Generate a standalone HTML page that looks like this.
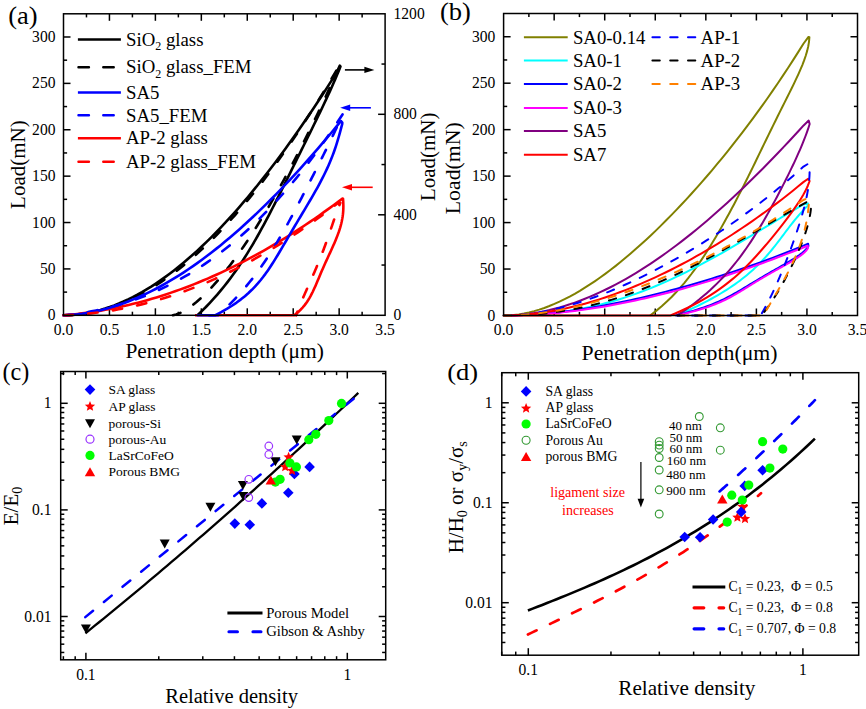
<!DOCTYPE html><html><head><meta charset="utf-8"><style>html,body{margin:0;padding:0;background:#fff;}svg{display:block}</style></head><body>
<svg width="866" height="709" viewBox="0 0 866 709" font-family="&quot;Liberation Serif&quot;, serif">
<rect width="866" height="709" fill="#fff"/>
<line x1="109.44" y1="315.3" x2="109.44" y2="308.3" stroke="#000" stroke-width="1.5" />
<line x1="109.44" y1="13.8" x2="109.44" y2="20.8" stroke="#000" stroke-width="1.5" />
<line x1="155.39" y1="315.3" x2="155.39" y2="308.3" stroke="#000" stroke-width="1.5" />
<line x1="155.39" y1="13.8" x2="155.39" y2="20.8" stroke="#000" stroke-width="1.5" />
<line x1="201.33" y1="315.3" x2="201.33" y2="308.3" stroke="#000" stroke-width="1.5" />
<line x1="201.33" y1="13.8" x2="201.33" y2="20.8" stroke="#000" stroke-width="1.5" />
<line x1="247.27" y1="315.3" x2="247.27" y2="308.3" stroke="#000" stroke-width="1.5" />
<line x1="247.27" y1="13.8" x2="247.27" y2="20.8" stroke="#000" stroke-width="1.5" />
<line x1="293.21" y1="315.3" x2="293.21" y2="308.3" stroke="#000" stroke-width="1.5" />
<line x1="293.21" y1="13.8" x2="293.21" y2="20.8" stroke="#000" stroke-width="1.5" />
<line x1="339.16" y1="315.3" x2="339.16" y2="308.3" stroke="#000" stroke-width="1.5" />
<line x1="339.16" y1="13.8" x2="339.16" y2="20.8" stroke="#000" stroke-width="1.5" />
<line x1="86.47" y1="315.3" x2="86.47" y2="311.7" stroke="#000" stroke-width="1.5" />
<line x1="86.47" y1="13.8" x2="86.47" y2="17.4" stroke="#000" stroke-width="1.5" />
<line x1="132.41" y1="315.3" x2="132.41" y2="311.7" stroke="#000" stroke-width="1.5" />
<line x1="132.41" y1="13.8" x2="132.41" y2="17.4" stroke="#000" stroke-width="1.5" />
<line x1="178.36" y1="315.3" x2="178.36" y2="311.7" stroke="#000" stroke-width="1.5" />
<line x1="178.36" y1="13.8" x2="178.36" y2="17.4" stroke="#000" stroke-width="1.5" />
<line x1="224.3" y1="315.3" x2="224.3" y2="311.7" stroke="#000" stroke-width="1.5" />
<line x1="224.3" y1="13.8" x2="224.3" y2="17.4" stroke="#000" stroke-width="1.5" />
<line x1="270.24" y1="315.3" x2="270.24" y2="311.7" stroke="#000" stroke-width="1.5" />
<line x1="270.24" y1="13.8" x2="270.24" y2="17.4" stroke="#000" stroke-width="1.5" />
<line x1="316.19" y1="315.3" x2="316.19" y2="311.7" stroke="#000" stroke-width="1.5" />
<line x1="316.19" y1="13.8" x2="316.19" y2="17.4" stroke="#000" stroke-width="1.5" />
<line x1="362.13" y1="315.3" x2="362.13" y2="311.7" stroke="#000" stroke-width="1.5" />
<line x1="362.13" y1="13.8" x2="362.13" y2="17.4" stroke="#000" stroke-width="1.5" />
<line x1="63.5" y1="268.92" x2="70.5" y2="268.92" stroke="#000" stroke-width="1.5" />
<line x1="63.5" y1="222.53" x2="70.5" y2="222.53" stroke="#000" stroke-width="1.5" />
<line x1="63.5" y1="176.15" x2="70.5" y2="176.15" stroke="#000" stroke-width="1.5" />
<line x1="63.5" y1="129.76" x2="70.5" y2="129.76" stroke="#000" stroke-width="1.5" />
<line x1="63.5" y1="83.38" x2="70.5" y2="83.38" stroke="#000" stroke-width="1.5" />
<line x1="63.5" y1="36.99" x2="70.5" y2="36.99" stroke="#000" stroke-width="1.5" />
<line x1="63.5" y1="292.11" x2="67.1" y2="292.11" stroke="#000" stroke-width="1.5" />
<line x1="63.5" y1="245.72" x2="67.1" y2="245.72" stroke="#000" stroke-width="1.5" />
<line x1="63.5" y1="199.34" x2="67.1" y2="199.34" stroke="#000" stroke-width="1.5" />
<line x1="63.5" y1="152.95" x2="67.1" y2="152.95" stroke="#000" stroke-width="1.5" />
<line x1="63.5" y1="106.57" x2="67.1" y2="106.57" stroke="#000" stroke-width="1.5" />
<line x1="63.5" y1="60.18" x2="67.1" y2="60.18" stroke="#000" stroke-width="1.5" />
<line x1="385.1" y1="214.8" x2="378.1" y2="214.8" stroke="#000" stroke-width="1.5" />
<line x1="385.1" y1="114.3" x2="378.1" y2="114.3" stroke="#000" stroke-width="1.5" />
<line x1="385.1" y1="265.05" x2="381.5" y2="265.05" stroke="#000" stroke-width="1.5" />
<line x1="385.1" y1="164.55" x2="381.5" y2="164.55" stroke="#000" stroke-width="1.5" />
<line x1="385.1" y1="64.05" x2="381.5" y2="64.05" stroke="#000" stroke-width="1.5" />
<text transform="translate(63.5,335.3) scale(1,1.085)" font-size="15.6" text-anchor="middle">0.0</text>
<text transform="translate(109.44,335.3) scale(1,1.085)" font-size="15.6" text-anchor="middle">0.5</text>
<text transform="translate(155.39,335.3) scale(1,1.085)" font-size="15.6" text-anchor="middle">1.0</text>
<text transform="translate(201.33,335.3) scale(1,1.085)" font-size="15.6" text-anchor="middle">1.5</text>
<text transform="translate(247.27,335.3) scale(1,1.085)" font-size="15.6" text-anchor="middle">2.0</text>
<text transform="translate(293.21,335.3) scale(1,1.085)" font-size="15.6" text-anchor="middle">2.5</text>
<text transform="translate(339.16,335.3) scale(1,1.085)" font-size="15.6" text-anchor="middle">3.0</text>
<text transform="translate(385.1,335.3) scale(1,1.085)" font-size="15.6" text-anchor="middle">3.5</text>
<text transform="translate(55.5,320.35) scale(1,1.085)" font-size="15.6" text-anchor="end">0</text>
<text transform="translate(55.5,273.97) scale(1,1.085)" font-size="15.6" text-anchor="end">50</text>
<text transform="translate(55.5,227.58) scale(1,1.085)" font-size="15.6" text-anchor="end">100</text>
<text transform="translate(55.5,181.2) scale(1,1.085)" font-size="15.6" text-anchor="end">150</text>
<text transform="translate(55.5,134.81) scale(1,1.085)" font-size="15.6" text-anchor="end">200</text>
<text transform="translate(55.5,88.43) scale(1,1.085)" font-size="15.6" text-anchor="end">250</text>
<text transform="translate(55.5,42.04) scale(1,1.085)" font-size="15.6" text-anchor="end">300</text>
<text transform="translate(393.5,320.35) scale(1,1.085)" font-size="15.6" text-anchor="start">0</text>
<text transform="translate(393.5,219.85) scale(1,1.085)" font-size="15.6" text-anchor="start">400</text>
<text transform="translate(393.5,119.35) scale(1,1.085)" font-size="15.6" text-anchor="start">800</text>
<text transform="translate(393.5,18.85) scale(1,1.085)" font-size="15.6" text-anchor="start">1200</text>
<text x="125.4" y="357.9" font-size="21.45" text-anchor="start" fill="#000" >Penetration depth (μm)</text>
<text transform="translate(25.0,164.6) rotate(-90)" font-size="21" text-anchor="middle">Load(mN)</text>
<text transform="translate(434.7,156.8) rotate(-90)" font-size="21" text-anchor="middle">Load(mN)</text>
<text transform="translate(8.2,24.1) scale(1,0.948)" font-size="26.5">(a)</text>
<line x1="554.16" y1="315.5" x2="554.16" y2="308.5" stroke="#000" stroke-width="1.5" />
<line x1="554.16" y1="13.5" x2="554.16" y2="20.5" stroke="#000" stroke-width="1.5" />
<line x1="604.71" y1="315.5" x2="604.71" y2="308.5" stroke="#000" stroke-width="1.5" />
<line x1="604.71" y1="13.5" x2="604.71" y2="20.5" stroke="#000" stroke-width="1.5" />
<line x1="655.27" y1="315.5" x2="655.27" y2="308.5" stroke="#000" stroke-width="1.5" />
<line x1="655.27" y1="13.5" x2="655.27" y2="20.5" stroke="#000" stroke-width="1.5" />
<line x1="705.83" y1="315.5" x2="705.83" y2="308.5" stroke="#000" stroke-width="1.5" />
<line x1="705.83" y1="13.5" x2="705.83" y2="20.5" stroke="#000" stroke-width="1.5" />
<line x1="756.39" y1="315.5" x2="756.39" y2="308.5" stroke="#000" stroke-width="1.5" />
<line x1="756.39" y1="13.5" x2="756.39" y2="20.5" stroke="#000" stroke-width="1.5" />
<line x1="806.94" y1="315.5" x2="806.94" y2="308.5" stroke="#000" stroke-width="1.5" />
<line x1="806.94" y1="13.5" x2="806.94" y2="20.5" stroke="#000" stroke-width="1.5" />
<line x1="528.88" y1="315.5" x2="528.88" y2="311.9" stroke="#000" stroke-width="1.5" />
<line x1="528.88" y1="13.5" x2="528.88" y2="17.1" stroke="#000" stroke-width="1.5" />
<line x1="579.44" y1="315.5" x2="579.44" y2="311.9" stroke="#000" stroke-width="1.5" />
<line x1="579.44" y1="13.5" x2="579.44" y2="17.1" stroke="#000" stroke-width="1.5" />
<line x1="629.99" y1="315.5" x2="629.99" y2="311.9" stroke="#000" stroke-width="1.5" />
<line x1="629.99" y1="13.5" x2="629.99" y2="17.1" stroke="#000" stroke-width="1.5" />
<line x1="680.55" y1="315.5" x2="680.55" y2="311.9" stroke="#000" stroke-width="1.5" />
<line x1="680.55" y1="13.5" x2="680.55" y2="17.1" stroke="#000" stroke-width="1.5" />
<line x1="731.11" y1="315.5" x2="731.11" y2="311.9" stroke="#000" stroke-width="1.5" />
<line x1="731.11" y1="13.5" x2="731.11" y2="17.1" stroke="#000" stroke-width="1.5" />
<line x1="781.66" y1="315.5" x2="781.66" y2="311.9" stroke="#000" stroke-width="1.5" />
<line x1="781.66" y1="13.5" x2="781.66" y2="17.1" stroke="#000" stroke-width="1.5" />
<line x1="832.22" y1="315.5" x2="832.22" y2="311.9" stroke="#000" stroke-width="1.5" />
<line x1="832.22" y1="13.5" x2="832.22" y2="17.1" stroke="#000" stroke-width="1.5" />
<line x1="503.6" y1="269.04" x2="510.6" y2="269.04" stroke="#000" stroke-width="1.5" />
<line x1="503.6" y1="222.58" x2="510.6" y2="222.58" stroke="#000" stroke-width="1.5" />
<line x1="503.6" y1="176.12" x2="510.6" y2="176.12" stroke="#000" stroke-width="1.5" />
<line x1="503.6" y1="129.65" x2="510.6" y2="129.65" stroke="#000" stroke-width="1.5" />
<line x1="503.6" y1="83.19" x2="510.6" y2="83.19" stroke="#000" stroke-width="1.5" />
<line x1="503.6" y1="36.73" x2="510.6" y2="36.73" stroke="#000" stroke-width="1.5" />
<line x1="503.6" y1="292.27" x2="507.2" y2="292.27" stroke="#000" stroke-width="1.5" />
<line x1="503.6" y1="245.81" x2="507.2" y2="245.81" stroke="#000" stroke-width="1.5" />
<line x1="503.6" y1="199.35" x2="507.2" y2="199.35" stroke="#000" stroke-width="1.5" />
<line x1="503.6" y1="152.88" x2="507.2" y2="152.88" stroke="#000" stroke-width="1.5" />
<line x1="503.6" y1="106.42" x2="507.2" y2="106.42" stroke="#000" stroke-width="1.5" />
<line x1="503.6" y1="59.96" x2="507.2" y2="59.96" stroke="#000" stroke-width="1.5" />
<line x1="857.5" y1="269.04" x2="850.5" y2="269.04" stroke="#000" stroke-width="1.5" />
<line x1="857.5" y1="222.58" x2="850.5" y2="222.58" stroke="#000" stroke-width="1.5" />
<line x1="857.5" y1="176.12" x2="850.5" y2="176.12" stroke="#000" stroke-width="1.5" />
<line x1="857.5" y1="129.65" x2="850.5" y2="129.65" stroke="#000" stroke-width="1.5" />
<line x1="857.5" y1="83.19" x2="850.5" y2="83.19" stroke="#000" stroke-width="1.5" />
<line x1="857.5" y1="36.73" x2="850.5" y2="36.73" stroke="#000" stroke-width="1.5" />
<line x1="857.5" y1="292.27" x2="853.9" y2="292.27" stroke="#000" stroke-width="1.5" />
<line x1="857.5" y1="245.81" x2="853.9" y2="245.81" stroke="#000" stroke-width="1.5" />
<line x1="857.5" y1="199.35" x2="853.9" y2="199.35" stroke="#000" stroke-width="1.5" />
<line x1="857.5" y1="152.88" x2="853.9" y2="152.88" stroke="#000" stroke-width="1.5" />
<line x1="857.5" y1="106.42" x2="853.9" y2="106.42" stroke="#000" stroke-width="1.5" />
<line x1="857.5" y1="59.96" x2="853.9" y2="59.96" stroke="#000" stroke-width="1.5" />
<text transform="translate(503.6,335.3) scale(1,1.085)" font-size="15.6" text-anchor="middle">0.0</text>
<text transform="translate(554.16,335.3) scale(1,1.085)" font-size="15.6" text-anchor="middle">0.5</text>
<text transform="translate(604.71,335.3) scale(1,1.085)" font-size="15.6" text-anchor="middle">1.0</text>
<text transform="translate(655.27,335.3) scale(1,1.085)" font-size="15.6" text-anchor="middle">1.5</text>
<text transform="translate(705.83,335.3) scale(1,1.085)" font-size="15.6" text-anchor="middle">2.0</text>
<text transform="translate(756.39,335.3) scale(1,1.085)" font-size="15.6" text-anchor="middle">2.5</text>
<text transform="translate(806.94,335.3) scale(1,1.085)" font-size="15.6" text-anchor="middle">3.0</text>
<text transform="translate(857.5,335.3) scale(1,1.085)" font-size="15.6" text-anchor="middle">3.5</text>
<text transform="translate(495.3,320.55) scale(1,1.085)" font-size="15.6" text-anchor="end">0</text>
<text transform="translate(495.3,274.09) scale(1,1.085)" font-size="15.6" text-anchor="end">50</text>
<text transform="translate(495.3,227.63) scale(1,1.085)" font-size="15.6" text-anchor="end">100</text>
<text transform="translate(495.3,181.17) scale(1,1.085)" font-size="15.6" text-anchor="end">150</text>
<text transform="translate(495.3,134.7) scale(1,1.085)" font-size="15.6" text-anchor="end">200</text>
<text transform="translate(495.3,88.24) scale(1,1.085)" font-size="15.6" text-anchor="end">250</text>
<text transform="translate(495.3,41.78) scale(1,1.085)" font-size="15.6" text-anchor="end">300</text>
<text x="581.6" y="360.2" font-size="21.75" text-anchor="start" fill="#000" >Penetration depth(μm)</text>
<text transform="translate(459.8,168.2) rotate(-90)" font-size="21.8" text-anchor="middle">Load(mN)</text>
<text transform="translate(439.9,20.3) scale(1.0,0.96)" font-size="26.5">(b)</text>
<line x1="85.9" y1="659.8" x2="85.9" y2="652.8" stroke="#000" stroke-width="1.5" />
<line x1="85.9" y1="371.5" x2="85.9" y2="378.5" stroke="#000" stroke-width="1.5" />
<line x1="347.3" y1="659.8" x2="347.3" y2="652.8" stroke="#000" stroke-width="1.5" />
<line x1="347.3" y1="371.5" x2="347.3" y2="378.5" stroke="#000" stroke-width="1.5" />
<line x1="63.37" y1="659.8" x2="63.37" y2="656.2" stroke="#000" stroke-width="1.5" />
<line x1="63.37" y1="371.5" x2="63.37" y2="375.1" stroke="#000" stroke-width="1.5" />
<line x1="75.19" y1="659.8" x2="75.19" y2="656.2" stroke="#000" stroke-width="1.5" />
<line x1="75.19" y1="371.5" x2="75.19" y2="375.1" stroke="#000" stroke-width="1.5" />
<line x1="158.77" y1="659.8" x2="158.77" y2="656.2" stroke="#000" stroke-width="1.5" />
<line x1="158.77" y1="371.5" x2="158.77" y2="375.1" stroke="#000" stroke-width="1.5" />
<line x1="202.79" y1="659.8" x2="202.79" y2="656.2" stroke="#000" stroke-width="1.5" />
<line x1="202.79" y1="371.5" x2="202.79" y2="375.1" stroke="#000" stroke-width="1.5" />
<line x1="234.43" y1="659.8" x2="234.43" y2="656.2" stroke="#000" stroke-width="1.5" />
<line x1="234.43" y1="371.5" x2="234.43" y2="375.1" stroke="#000" stroke-width="1.5" />
<line x1="259.14" y1="659.8" x2="259.14" y2="656.2" stroke="#000" stroke-width="1.5" />
<line x1="259.14" y1="371.5" x2="259.14" y2="375.1" stroke="#000" stroke-width="1.5" />
<line x1="279.43" y1="659.8" x2="279.43" y2="656.2" stroke="#000" stroke-width="1.5" />
<line x1="279.43" y1="371.5" x2="279.43" y2="375.1" stroke="#000" stroke-width="1.5" />
<line x1="296.64" y1="659.8" x2="296.64" y2="656.2" stroke="#000" stroke-width="1.5" />
<line x1="296.64" y1="371.5" x2="296.64" y2="375.1" stroke="#000" stroke-width="1.5" />
<line x1="311.57" y1="659.8" x2="311.57" y2="656.2" stroke="#000" stroke-width="1.5" />
<line x1="311.57" y1="371.5" x2="311.57" y2="375.1" stroke="#000" stroke-width="1.5" />
<line x1="324.77" y1="659.8" x2="324.77" y2="656.2" stroke="#000" stroke-width="1.5" />
<line x1="324.77" y1="371.5" x2="324.77" y2="375.1" stroke="#000" stroke-width="1.5" />
<line x1="336.59" y1="659.8" x2="336.59" y2="656.2" stroke="#000" stroke-width="1.5" />
<line x1="336.59" y1="371.5" x2="336.59" y2="375.1" stroke="#000" stroke-width="1.5" />
<line x1="60.7" y1="616.5" x2="67.7" y2="616.5" stroke="#000" stroke-width="1.5" />
<line x1="60.7" y1="509.9" x2="67.7" y2="509.9" stroke="#000" stroke-width="1.5" />
<line x1="60.7" y1="403.3" x2="67.7" y2="403.3" stroke="#000" stroke-width="1.5" />
<line x1="60.7" y1="652.45" x2="64.3" y2="652.45" stroke="#000" stroke-width="1.5" />
<line x1="60.7" y1="644.18" x2="64.3" y2="644.18" stroke="#000" stroke-width="1.5" />
<line x1="60.7" y1="637.16" x2="64.3" y2="637.16" stroke="#000" stroke-width="1.5" />
<line x1="60.7" y1="631.07" x2="64.3" y2="631.07" stroke="#000" stroke-width="1.5" />
<line x1="60.7" y1="625.69" x2="64.3" y2="625.69" stroke="#000" stroke-width="1.5" />
<line x1="60.7" y1="620.87" x2="64.3" y2="620.87" stroke="#000" stroke-width="1.5" />
<line x1="60.7" y1="586.78" x2="64.3" y2="586.78" stroke="#000" stroke-width="1.5" />
<line x1="60.7" y1="568.83" x2="64.3" y2="568.83" stroke="#000" stroke-width="1.5" />
<line x1="60.7" y1="555.93" x2="64.3" y2="555.93" stroke="#000" stroke-width="1.5" />
<line x1="60.7" y1="545.85" x2="64.3" y2="545.85" stroke="#000" stroke-width="1.5" />
<line x1="60.7" y1="537.58" x2="64.3" y2="537.58" stroke="#000" stroke-width="1.5" />
<line x1="60.7" y1="530.56" x2="64.3" y2="530.56" stroke="#000" stroke-width="1.5" />
<line x1="60.7" y1="524.47" x2="64.3" y2="524.47" stroke="#000" stroke-width="1.5" />
<line x1="60.7" y1="519.09" x2="64.3" y2="519.09" stroke="#000" stroke-width="1.5" />
<line x1="60.7" y1="514.27" x2="64.3" y2="514.27" stroke="#000" stroke-width="1.5" />
<line x1="60.7" y1="480.18" x2="64.3" y2="480.18" stroke="#000" stroke-width="1.5" />
<line x1="60.7" y1="462.23" x2="64.3" y2="462.23" stroke="#000" stroke-width="1.5" />
<line x1="60.7" y1="449.33" x2="64.3" y2="449.33" stroke="#000" stroke-width="1.5" />
<line x1="60.7" y1="439.25" x2="64.3" y2="439.25" stroke="#000" stroke-width="1.5" />
<line x1="60.7" y1="430.98" x2="64.3" y2="430.98" stroke="#000" stroke-width="1.5" />
<line x1="60.7" y1="423.96" x2="64.3" y2="423.96" stroke="#000" stroke-width="1.5" />
<line x1="60.7" y1="417.87" x2="64.3" y2="417.87" stroke="#000" stroke-width="1.5" />
<line x1="60.7" y1="412.49" x2="64.3" y2="412.49" stroke="#000" stroke-width="1.5" />
<line x1="60.7" y1="407.67" x2="64.3" y2="407.67" stroke="#000" stroke-width="1.5" />
<line x1="60.7" y1="373.58" x2="64.3" y2="373.58" stroke="#000" stroke-width="1.5" />
<line x1="385.7" y1="616.5" x2="378.7" y2="616.5" stroke="#000" stroke-width="1.5" />
<line x1="385.7" y1="509.9" x2="378.7" y2="509.9" stroke="#000" stroke-width="1.5" />
<line x1="385.7" y1="403.3" x2="378.7" y2="403.3" stroke="#000" stroke-width="1.5" />
<line x1="385.7" y1="652.45" x2="382.1" y2="652.45" stroke="#000" stroke-width="1.5" />
<line x1="385.7" y1="644.18" x2="382.1" y2="644.18" stroke="#000" stroke-width="1.5" />
<line x1="385.7" y1="637.16" x2="382.1" y2="637.16" stroke="#000" stroke-width="1.5" />
<line x1="385.7" y1="631.07" x2="382.1" y2="631.07" stroke="#000" stroke-width="1.5" />
<line x1="385.7" y1="625.69" x2="382.1" y2="625.69" stroke="#000" stroke-width="1.5" />
<line x1="385.7" y1="620.87" x2="382.1" y2="620.87" stroke="#000" stroke-width="1.5" />
<line x1="385.7" y1="586.78" x2="382.1" y2="586.78" stroke="#000" stroke-width="1.5" />
<line x1="385.7" y1="568.83" x2="382.1" y2="568.83" stroke="#000" stroke-width="1.5" />
<line x1="385.7" y1="555.93" x2="382.1" y2="555.93" stroke="#000" stroke-width="1.5" />
<line x1="385.7" y1="545.85" x2="382.1" y2="545.85" stroke="#000" stroke-width="1.5" />
<line x1="385.7" y1="537.58" x2="382.1" y2="537.58" stroke="#000" stroke-width="1.5" />
<line x1="385.7" y1="530.56" x2="382.1" y2="530.56" stroke="#000" stroke-width="1.5" />
<line x1="385.7" y1="524.47" x2="382.1" y2="524.47" stroke="#000" stroke-width="1.5" />
<line x1="385.7" y1="519.09" x2="382.1" y2="519.09" stroke="#000" stroke-width="1.5" />
<line x1="385.7" y1="514.27" x2="382.1" y2="514.27" stroke="#000" stroke-width="1.5" />
<line x1="385.7" y1="480.18" x2="382.1" y2="480.18" stroke="#000" stroke-width="1.5" />
<line x1="385.7" y1="462.23" x2="382.1" y2="462.23" stroke="#000" stroke-width="1.5" />
<line x1="385.7" y1="449.33" x2="382.1" y2="449.33" stroke="#000" stroke-width="1.5" />
<line x1="385.7" y1="439.25" x2="382.1" y2="439.25" stroke="#000" stroke-width="1.5" />
<line x1="385.7" y1="430.98" x2="382.1" y2="430.98" stroke="#000" stroke-width="1.5" />
<line x1="385.7" y1="423.96" x2="382.1" y2="423.96" stroke="#000" stroke-width="1.5" />
<line x1="385.7" y1="417.87" x2="382.1" y2="417.87" stroke="#000" stroke-width="1.5" />
<line x1="385.7" y1="412.49" x2="382.1" y2="412.49" stroke="#000" stroke-width="1.5" />
<line x1="385.7" y1="407.67" x2="382.1" y2="407.67" stroke="#000" stroke-width="1.5" />
<line x1="385.7" y1="373.58" x2="382.1" y2="373.58" stroke="#000" stroke-width="1.5" />
<text transform="translate(85.9,679.6) scale(1,1.085)" font-size="15.6" text-anchor="middle">0.1</text>
<text transform="translate(347.3,679.6) scale(1,1.085)" font-size="15.6" text-anchor="middle">1</text>
<text transform="translate(51.5,408.35) scale(1,1.085)" font-size="15.6" text-anchor="end">1</text>
<text transform="translate(51.5,514.95) scale(1,1.085)" font-size="15.6" text-anchor="end">0.1</text>
<text transform="translate(51.5,621.55) scale(1,1.085)" font-size="15.6" text-anchor="end">0.01</text>
<text x="165.3" y="703.2" font-size="20.5" text-anchor="start" fill="#000" >Relative density</text>
<text transform="translate(17.8,506) rotate(-90)" font-size="21" text-anchor="middle">E/E<tspan font-size="14" dy="4">0</tspan></text>
<text transform="translate(2.5,380.4) scale(0.912,0.912)" font-size="26.5">(c)</text>
<line x1="528.3" y1="655.2" x2="528.3" y2="648.2" stroke="#000" stroke-width="1.5" />
<line x1="528.3" y1="372.7" x2="528.3" y2="379.7" stroke="#000" stroke-width="1.5" />
<line x1="802.9" y1="655.2" x2="802.9" y2="648.2" stroke="#000" stroke-width="1.5" />
<line x1="802.9" y1="372.7" x2="802.9" y2="379.7" stroke="#000" stroke-width="1.5" />
<line x1="501.69" y1="655.2" x2="501.69" y2="651.6" stroke="#000" stroke-width="1.5" />
<line x1="501.69" y1="372.7" x2="501.69" y2="376.3" stroke="#000" stroke-width="1.5" />
<line x1="515.73" y1="655.2" x2="515.73" y2="651.6" stroke="#000" stroke-width="1.5" />
<line x1="515.73" y1="372.7" x2="515.73" y2="376.3" stroke="#000" stroke-width="1.5" />
<line x1="610.96" y1="655.2" x2="610.96" y2="651.6" stroke="#000" stroke-width="1.5" />
<line x1="610.96" y1="372.7" x2="610.96" y2="376.3" stroke="#000" stroke-width="1.5" />
<line x1="659.32" y1="655.2" x2="659.32" y2="651.6" stroke="#000" stroke-width="1.5" />
<line x1="659.32" y1="372.7" x2="659.32" y2="376.3" stroke="#000" stroke-width="1.5" />
<line x1="693.63" y1="655.2" x2="693.63" y2="651.6" stroke="#000" stroke-width="1.5" />
<line x1="693.63" y1="372.7" x2="693.63" y2="376.3" stroke="#000" stroke-width="1.5" />
<line x1="720.24" y1="655.2" x2="720.24" y2="651.6" stroke="#000" stroke-width="1.5" />
<line x1="720.24" y1="372.7" x2="720.24" y2="376.3" stroke="#000" stroke-width="1.5" />
<line x1="741.98" y1="655.2" x2="741.98" y2="651.6" stroke="#000" stroke-width="1.5" />
<line x1="741.98" y1="372.7" x2="741.98" y2="376.3" stroke="#000" stroke-width="1.5" />
<line x1="760.36" y1="655.2" x2="760.36" y2="651.6" stroke="#000" stroke-width="1.5" />
<line x1="760.36" y1="372.7" x2="760.36" y2="376.3" stroke="#000" stroke-width="1.5" />
<line x1="776.29" y1="655.2" x2="776.29" y2="651.6" stroke="#000" stroke-width="1.5" />
<line x1="776.29" y1="372.7" x2="776.29" y2="376.3" stroke="#000" stroke-width="1.5" />
<line x1="790.33" y1="655.2" x2="790.33" y2="651.6" stroke="#000" stroke-width="1.5" />
<line x1="790.33" y1="372.7" x2="790.33" y2="376.3" stroke="#000" stroke-width="1.5" />
<line x1="501.8" y1="602.7" x2="508.8" y2="602.7" stroke="#000" stroke-width="1.5" />
<line x1="501.8" y1="502.75" x2="508.8" y2="502.75" stroke="#000" stroke-width="1.5" />
<line x1="501.8" y1="402.8" x2="508.8" y2="402.8" stroke="#000" stroke-width="1.5" />
<line x1="501.8" y1="642.47" x2="505.4" y2="642.47" stroke="#000" stroke-width="1.5" />
<line x1="501.8" y1="632.79" x2="505.4" y2="632.79" stroke="#000" stroke-width="1.5" />
<line x1="501.8" y1="624.87" x2="505.4" y2="624.87" stroke="#000" stroke-width="1.5" />
<line x1="501.8" y1="618.18" x2="505.4" y2="618.18" stroke="#000" stroke-width="1.5" />
<line x1="501.8" y1="612.39" x2="505.4" y2="612.39" stroke="#000" stroke-width="1.5" />
<line x1="501.8" y1="607.27" x2="505.4" y2="607.27" stroke="#000" stroke-width="1.5" />
<line x1="501.8" y1="572.61" x2="505.4" y2="572.61" stroke="#000" stroke-width="1.5" />
<line x1="501.8" y1="555.01" x2="505.4" y2="555.01" stroke="#000" stroke-width="1.5" />
<line x1="501.8" y1="542.52" x2="505.4" y2="542.52" stroke="#000" stroke-width="1.5" />
<line x1="501.8" y1="532.84" x2="505.4" y2="532.84" stroke="#000" stroke-width="1.5" />
<line x1="501.8" y1="524.92" x2="505.4" y2="524.92" stroke="#000" stroke-width="1.5" />
<line x1="501.8" y1="518.23" x2="505.4" y2="518.23" stroke="#000" stroke-width="1.5" />
<line x1="501.8" y1="512.44" x2="505.4" y2="512.44" stroke="#000" stroke-width="1.5" />
<line x1="501.8" y1="507.32" x2="505.4" y2="507.32" stroke="#000" stroke-width="1.5" />
<line x1="501.8" y1="472.66" x2="505.4" y2="472.66" stroke="#000" stroke-width="1.5" />
<line x1="501.8" y1="455.06" x2="505.4" y2="455.06" stroke="#000" stroke-width="1.5" />
<line x1="501.8" y1="442.57" x2="505.4" y2="442.57" stroke="#000" stroke-width="1.5" />
<line x1="501.8" y1="432.89" x2="505.4" y2="432.89" stroke="#000" stroke-width="1.5" />
<line x1="501.8" y1="424.97" x2="505.4" y2="424.97" stroke="#000" stroke-width="1.5" />
<line x1="501.8" y1="418.28" x2="505.4" y2="418.28" stroke="#000" stroke-width="1.5" />
<line x1="501.8" y1="412.49" x2="505.4" y2="412.49" stroke="#000" stroke-width="1.5" />
<line x1="501.8" y1="407.37" x2="505.4" y2="407.37" stroke="#000" stroke-width="1.5" />
<line x1="858.7" y1="602.7" x2="851.7" y2="602.7" stroke="#000" stroke-width="1.5" />
<line x1="858.7" y1="502.75" x2="851.7" y2="502.75" stroke="#000" stroke-width="1.5" />
<line x1="858.7" y1="402.8" x2="851.7" y2="402.8" stroke="#000" stroke-width="1.5" />
<line x1="858.7" y1="642.47" x2="855.1" y2="642.47" stroke="#000" stroke-width="1.5" />
<line x1="858.7" y1="632.79" x2="855.1" y2="632.79" stroke="#000" stroke-width="1.5" />
<line x1="858.7" y1="624.87" x2="855.1" y2="624.87" stroke="#000" stroke-width="1.5" />
<line x1="858.7" y1="618.18" x2="855.1" y2="618.18" stroke="#000" stroke-width="1.5" />
<line x1="858.7" y1="612.39" x2="855.1" y2="612.39" stroke="#000" stroke-width="1.5" />
<line x1="858.7" y1="607.27" x2="855.1" y2="607.27" stroke="#000" stroke-width="1.5" />
<line x1="858.7" y1="572.61" x2="855.1" y2="572.61" stroke="#000" stroke-width="1.5" />
<line x1="858.7" y1="555.01" x2="855.1" y2="555.01" stroke="#000" stroke-width="1.5" />
<line x1="858.7" y1="542.52" x2="855.1" y2="542.52" stroke="#000" stroke-width="1.5" />
<line x1="858.7" y1="532.84" x2="855.1" y2="532.84" stroke="#000" stroke-width="1.5" />
<line x1="858.7" y1="524.92" x2="855.1" y2="524.92" stroke="#000" stroke-width="1.5" />
<line x1="858.7" y1="518.23" x2="855.1" y2="518.23" stroke="#000" stroke-width="1.5" />
<line x1="858.7" y1="512.44" x2="855.1" y2="512.44" stroke="#000" stroke-width="1.5" />
<line x1="858.7" y1="507.32" x2="855.1" y2="507.32" stroke="#000" stroke-width="1.5" />
<line x1="858.7" y1="472.66" x2="855.1" y2="472.66" stroke="#000" stroke-width="1.5" />
<line x1="858.7" y1="455.06" x2="855.1" y2="455.06" stroke="#000" stroke-width="1.5" />
<line x1="858.7" y1="442.57" x2="855.1" y2="442.57" stroke="#000" stroke-width="1.5" />
<line x1="858.7" y1="432.89" x2="855.1" y2="432.89" stroke="#000" stroke-width="1.5" />
<line x1="858.7" y1="424.97" x2="855.1" y2="424.97" stroke="#000" stroke-width="1.5" />
<line x1="858.7" y1="418.28" x2="855.1" y2="418.28" stroke="#000" stroke-width="1.5" />
<line x1="858.7" y1="412.49" x2="855.1" y2="412.49" stroke="#000" stroke-width="1.5" />
<line x1="858.7" y1="407.37" x2="855.1" y2="407.37" stroke="#000" stroke-width="1.5" />
<text transform="translate(528.3,674.8) scale(1,1.085)" font-size="15.6" text-anchor="middle">0.1</text>
<text transform="translate(802.9,674.8) scale(1,1.085)" font-size="15.6" text-anchor="middle">1</text>
<text transform="translate(492.5,407.85) scale(1,1.085)" font-size="15.6" text-anchor="end">1</text>
<text transform="translate(492.5,507.8) scale(1,1.085)" font-size="15.6" text-anchor="end">0.1</text>
<text transform="translate(492.5,607.75) scale(1,1.085)" font-size="15.6" text-anchor="end">0.01</text>
<text x="618.3" y="694.9" font-size="21.2" text-anchor="start" fill="#000" >Relative density</text>
<text transform="translate(463,497.3) rotate(-90)" font-size="21" text-anchor="middle">H/H<tspan font-size="14" dy="4">0</tspan><tspan dy="-4"> or σ</tspan><tspan font-size="14" dy="4">y</tspan><tspan dy="-4">/σ</tspan><tspan font-size="14" dy="4">s</tspan></text>
<text transform="translate(447.2,379.9) scale(1.0,0.90)" font-size="26.5">(d)</text>
<g stroke-linecap="butt">
<path d="M63.5,315.3 L68.14,315.22 L72.77,314.99 L77.41,314.6 L82.05,314.07 L86.69,313.37 L91.32,312.53 L95.96,311.54 L100.6,310.39 L105.23,309.1 L109.87,307.66 L114.51,306.07 L119.15,304.33 L123.78,302.44 L128.42,300.41 L133.06,298.23 L137.69,295.91 L142.33,293.45 L146.97,290.84 L151.61,288.09 L156.24,285.2 L160.88,282.16 L165.52,278.99 L170.15,275.67 L174.79,272.22 L179.43,268.63 L184.07,264.9 L188.7,261.04 L193.34,257.03 L197.98,252.9 L202.61,248.62 L207.25,244.22 L211.89,239.68 L216.53,235.01 L221.16,230.2 L225.8,225.27 L230.44,220.2 L235.08,215.01 L239.71,209.68 L244.35,204.23 L248.99,198.65 L253.62,192.94 L258.26,187.11 L262.9,181.15 L267.54,175.06 L272.17,168.85 L276.81,162.52 L281.45,156.06 L286.08,149.49 L290.72,142.79 L295.36,135.97 L300,129.03 L304.63,121.97 L309.27,114.8 L313.91,107.5 L318.54,100.09 L323.18,92.56 L327.82,84.92 L332.46,77.16 L337.09,69.28 L341.73,61.3 L341.73,61.3 L338.35,68.88 L334.97,76.38 L331.6,83.81 L328.22,91.16 L324.84,98.43 L321.46,105.62 L318.09,112.73 L314.71,119.75 L311.33,126.69 L307.95,133.55 L304.58,140.32 L301.2,147.01 L297.82,153.61 L294.44,160.12 L291.06,166.54 L287.69,172.87 L284.31,179.11 L280.93,185.25 L277.55,191.3 L274.18,197.25 L270.8,203.1 L267.42,208.86 L264.04,214.51 L260.66,220.05 L257.29,225.5 L253.91,230.83 L250.53,236.05 L247.15,241.17 L243.78,246.16 L240.4,251.04 L237.02,255.8 L233.64,260.44 L230.27,264.94 L226.89,269.32 L223.51,273.56 L220.13,277.67 L216.75,281.63 L213.38,285.44 L210,289.09 L206.62,292.58 L203.24,295.9 L199.87,299.04 L196.49,301.99 L193.11,304.74 L189.73,307.27 L186.35,309.55 L182.98,311.57 L179.6,313.27 L176.22,314.58 L172.84,315.3" fill="none" stroke="#000" stroke-width="2.6" stroke-linejoin="round" stroke-dasharray="9.4 15.4" stroke-linecap="round" />
<path d="M63.5,315.3 L68.12,315.2 L72.73,314.94 L77.35,314.51 L81.96,313.91 L86.58,313.16 L91.19,312.25 L95.81,311.18 L100.43,309.95 L105.04,308.57 L109.66,307.04 L114.27,305.35 L118.89,303.51 L123.5,301.52 L128.12,299.38 L132.74,297.1 L137.35,294.67 L141.97,292.1 L146.58,289.39 L151.2,286.54 L155.81,283.54 L160.43,280.41 L165.05,277.15 L169.66,273.75 L174.28,270.21 L178.89,266.55 L183.51,262.75 L188.12,258.82 L192.74,254.77 L197.36,250.59 L201.97,246.29 L206.59,241.86 L211.2,237.31 L215.82,232.64 L220.43,227.86 L225.05,222.95 L229.67,217.93 L234.28,212.8 L238.9,207.55 L243.51,202.19 L248.13,196.72 L252.74,191.14 L257.36,185.46 L261.98,179.67 L266.59,173.77 L271.21,167.78 L275.82,161.68 L280.44,155.48 L285.05,149.18 L289.67,142.79 L294.29,136.3 L298.9,129.72 L303.52,123.05 L308.13,116.28 L312.75,109.42 L317.36,102.48 L321.98,95.45 L326.6,88.34 L331.21,81.14 L335.83,73.86 L340.44,66.49 L340.45,66.5 L338.8,70.65 L337.1,74.79 L335.35,78.94 L333.56,83.09 L331.72,87.23 L329.85,91.38 L327.95,95.53 L326.02,99.67 L324.07,103.82 L322.09,107.97 L320.1,112.11 L318.1,116.26 L316.08,120.41 L314.05,124.55 L312.01,128.7 L309.97,132.85 L307.92,136.99 L305.88,141.14 L303.83,145.29 L301.77,149.43 L299.72,153.58 L297.67,157.73 L295.62,161.87 L293.57,166.02 L291.52,170.17 L289.46,174.31 L287.41,178.46 L285.35,182.61 L283.29,186.75 L281.22,190.9 L279.14,195.05 L277.05,199.19 L274.95,203.34 L272.83,207.49 L270.7,211.63 L268.54,215.78 L266.36,219.93 L264.15,224.07 L261.9,228.22 L259.62,232.37 L257.3,236.51 L254.93,240.66 L252.51,244.81 L250.03,248.95 L247.49,253.1 L244.89,257.25 L242.2,261.39 L239.44,265.54 L236.6,269.69 L233.66,273.83 L230.62,277.98 L227.47,282.13 L224.21,286.27 L220.82,290.42 L217.3,294.57 L213.65,298.71 L209.85,302.86 L205.89,307.01 L201.76,311.15 L197.46,315.3" fill="none" stroke="#000" stroke-width="2.6" stroke-linejoin="round" />
<path d="M63.5,315.3 L68.15,314.9 L72.8,314.46 L77.45,313.95 L82.1,313.4 L86.75,312.79 L91.4,312.13 L96.05,311.42 L100.7,310.66 L105.34,309.84 L109.99,308.97 L114.64,308.05 L119.29,307.08 L123.94,306.05 L128.59,304.97 L133.24,303.84 L137.89,302.65 L142.54,301.42 L147.19,300.13 L151.84,298.79 L156.49,297.39 L161.14,295.94 L165.79,294.44 L170.44,292.89 L175.09,291.29 L179.74,289.63 L184.38,287.92 L189.03,286.16 L193.68,284.34 L198.33,282.47 L202.98,280.55 L207.63,278.58 L212.28,276.55 L216.93,274.48 L221.58,272.35 L226.23,270.16 L230.88,267.93 L235.53,265.64 L240.18,263.3 L244.83,260.9 L249.48,258.46 L254.13,255.96 L258.78,253.41 L263.42,250.81 L268.07,248.15 L272.72,245.44 L277.37,242.68 L282.02,239.87 L286.67,237 L291.32,234.08 L295.97,231.11 L300.62,228.09 L305.27,225.01 L309.92,221.88 L314.57,218.7 L319.22,215.46 L323.87,212.18 L328.52,208.84 L333.17,205.45 L337.82,202 L342.47,198.5 L343.01,198.7 L343.16,200.64 L343.27,202.59 L343.34,204.53 L343.36,206.47 L343.33,208.42 L343.25,210.36 L343.12,212.3 L342.93,214.25 L342.69,216.19 L342.39,218.13 L342.03,220.08 L341.63,222.02 L341.17,223.96 L340.66,225.91 L340.1,227.85 L339.49,229.79 L338.85,231.74 L338.16,233.68 L337.44,235.62 L336.68,237.57 L335.9,239.51 L335.08,241.45 L334.25,243.4 L333.39,245.34 L332.52,247.28 L331.64,249.23 L330.75,251.17 L329.86,253.11 L328.96,255.06 L328.06,257 L327.17,258.94 L326.28,260.89 L325.39,262.83 L324.52,264.77 L323.65,266.72 L322.8,268.66 L321.95,270.6 L321.11,272.55 L320.28,274.49 L319.46,276.43 L318.64,278.38 L317.82,280.32 L317,282.26 L316.17,284.21 L315.33,286.15 L314.46,288.09 L313.57,290.04 L312.65,291.98 L311.67,293.92 L310.65,295.87 L309.56,297.81 L308.39,299.75 L307.13,301.7 L305.76,303.64 L304.26,305.58 L302.63,307.53 L300.84,309.47 L298.88,311.41 L296.71,313.36 L294.32,315.3 L195,315.3" fill="none" stroke="#f00" stroke-width="2.6" stroke-linejoin="round" />
<path d="M63.5,315.3 L68.12,315.08 L72.75,314.74 L77.37,314.28 L82,313.69 L86.62,312.99 L91.25,312.17 L95.87,311.22 L100.5,310.16 L105.12,308.99 L109.75,307.7 L114.37,306.3 L119,304.78 L123.62,303.16 L128.25,301.42 L132.87,299.57 L137.5,297.62 L142.12,295.55 L146.75,293.39 L151.37,291.11 L156,288.74 L160.62,286.26 L165.25,283.68 L169.87,280.99 L174.5,278.21 L179.12,275.33 L183.75,272.36 L188.37,269.28 L193,266.12 L197.62,262.85 L202.25,259.5 L206.87,256.05 L211.5,252.51 L216.12,248.89 L220.75,245.17 L225.37,241.37 L230,237.48 L234.62,233.5 L239.25,229.44 L243.87,225.3 L248.5,221.08 L253.12,216.77 L257.75,212.39 L262.37,207.92 L267,203.38 L271.62,198.76 L276.25,194.07 L280.87,189.3 L285.5,184.46 L290.12,179.55 L294.75,174.56 L299.37,169.51 L304,164.38 L308.62,159.19 L313.25,153.93 L317.87,148.61 L322.5,143.22 L327.12,137.77 L331.75,132.25 L336.37,126.68 L340.99,121.04 L342.3,122.5 L342.23,124 L341.38,127.19 L340.52,130.38 L339.65,133.56 L338.76,136.75 L337.83,139.94 L336.86,143.13 L335.84,146.32 L334.77,149.51 L333.64,152.69 L332.45,155.88 L331.2,159.07 L329.88,162.26 L328.51,165.45 L327.07,168.64 L325.58,171.82 L324.02,175.01 L322.42,178.2 L320.76,181.39 L319.06,184.58 L317.32,187.77 L315.53,190.95 L313.72,194.14 L311.88,197.33 L310.02,200.52 L308.14,203.71 L306.24,206.9 L304.34,210.09 L302.43,213.27 L300.52,216.46 L298.61,219.65 L296.71,222.84 L294.81,226.03 L292.92,229.22 L291.03,232.4 L289.16,235.59 L287.29,238.78 L285.42,241.97 L283.56,245.16 L281.68,248.35 L279.8,251.53 L277.89,254.72 L275.96,257.91 L273.99,261.1 L271.97,264.29 L269.88,267.48 L267.71,270.66 L265.44,273.85 L263.06,277.04 L260.53,280.23 L257.84,283.42 L254.96,286.61 L251.86,289.79 L248.51,292.98 L244.88,296.17 L240.93,299.36 L236.63,302.55 L231.93,305.74 L226.79,308.92 L221.16,312.11 L215,315.3 L196.73,315.3" fill="none" stroke="#00f" stroke-width="2.6" stroke-linejoin="round" />
<path d="M63.5,315.3 L68.16,314.82 L72.81,314.27 L77.47,313.65 L82.12,312.95 L86.78,312.19 L91.43,311.35 L96.09,310.44 L100.74,309.45 L105.4,308.38 L110.06,307.23 L114.71,306 L119.37,304.69 L124.02,303.29 L128.68,301.81 L133.33,300.24 L137.99,298.58 L142.64,296.82 L147.3,294.98 L151.96,293.04 L156.61,291.01 L161.27,288.88 L165.92,286.65 L170.58,284.32 L175.23,281.89 L179.89,279.36 L184.54,276.72 L189.2,273.98 L193.86,271.13 L198.51,268.17 L203.17,265.1 L207.82,261.92 L212.48,258.62 L217.13,255.21 L221.79,251.68 L226.44,248.03 L231.1,244.27 L235.76,240.38 L240.41,236.37 L245.07,232.24 L249.72,227.98 L254.38,223.59 L259.03,219.07 L263.69,214.43 L268.34,209.65 L273,204.73 L277.65,199.69 L282.31,194.5 L286.97,189.18 L291.62,183.72 L296.28,178.12 L300.93,172.37 L305.59,166.48 L310.24,160.45 L314.9,154.26 L319.55,147.93 L324.21,141.45 L328.87,134.82 L333.52,128.03 L338.18,121.09 L342.83,113.99 L342.72,114.3 L341.23,117.65 L339.72,121 L338.19,124.35 L336.63,127.7 L335.06,131.05 L333.46,134.4 L331.86,137.75 L330.23,141.1 L328.6,144.45 L326.95,147.8 L325.3,151.15 L323.63,154.5 L321.96,157.85 L320.28,161.2 L318.59,164.55 L316.9,167.9 L315.21,171.25 L313.51,174.6 L311.8,177.95 L310.09,181.3 L308.37,184.65 L306.65,188 L304.92,191.35 L303.19,194.7 L301.45,198.05 L299.69,201.4 L297.93,204.75 L296.16,208.1 L294.38,211.45 L292.58,214.8 L290.76,218.15 L288.93,221.5 L287.08,224.85 L285.2,228.2 L283.31,231.55 L281.38,234.9 L279.43,238.25 L277.44,241.6 L275.42,244.95 L273.36,248.3 L271.25,251.65 L269.11,255 L266.91,258.35 L264.66,261.7 L262.36,265.05 L260,268.4 L257.57,271.75 L255.08,275.1 L252.51,278.45 L249.86,281.8 L247.13,285.15 L244.32,288.5 L241.41,291.85 L238.4,295.2 L235.3,298.55 L232.08,301.9 L228.75,305.25 L225.3,308.6 L221.73,311.95 L218.02,315.3 L196.73,315.3" fill="none" stroke="#00f" stroke-width="2.6" stroke-linejoin="round" stroke-dasharray="9.4 15.4" stroke-linecap="round" />
<path d="M63.5,315.3 L68.09,315.12 L72.69,314.88 L77.28,314.59 L81.88,314.23 L86.47,313.82 L91.07,313.35 L95.66,312.83 L100.25,312.24 L104.85,311.6 L109.44,310.9 L114.04,310.14 L118.63,309.32 L123.23,308.45 L127.82,307.52 L132.41,306.53 L137.01,305.48 L141.6,304.38 L146.2,303.21 L150.79,301.99 L155.39,300.71 L159.98,299.38 L164.57,297.98 L169.17,296.53 L173.76,295.02 L178.36,293.45 L182.95,291.82 L187.55,290.14 L192.14,288.4 L196.73,286.6 L201.33,284.74 L205.92,282.83 L210.52,280.85 L215.11,278.82 L219.71,276.73 L224.3,274.59 L228.89,272.38 L233.49,270.12 L238.08,267.8 L242.68,265.42 L247.27,262.99 L251.87,260.49 L256.46,257.94 L261.05,255.33 L265.65,252.66 L270.24,249.94 L274.84,247.16 L279.43,244.32 L284.03,241.42 L288.62,238.46 L293.21,235.45 L297.81,232.37 L302.4,229.24 L307,226.06 L311.59,222.81 L316.19,219.51 L320.78,216.15 L325.37,212.73 L329.97,209.25 L334.56,205.71 L339.16,202.12 L340.37,202.8 L339.61,204.68 L338.87,206.55 L338.15,208.43 L337.45,210.3 L336.76,212.18 L336.08,214.05 L335.41,215.93 L334.74,217.8 L334.09,219.68 L333.44,221.55 L332.79,223.43 L332.15,225.3 L331.51,227.18 L330.87,229.05 L330.22,230.93 L329.58,232.8 L328.93,234.68 L328.28,236.55 L327.62,238.43 L326.96,240.3 L326.29,242.18 L325.61,244.05 L324.92,245.93 L324.23,247.8 L323.53,249.68 L322.82,251.55 L322.1,253.43 L321.37,255.3 L320.63,257.18 L319.88,259.05 L319.12,260.93 L318.36,262.8 L317.58,264.68 L316.8,266.55 L316.01,268.43 L315.21,270.3 L314.4,272.18 L313.58,274.05 L312.76,275.93 L311.94,277.8 L311.11,279.68 L310.27,281.55 L309.44,283.43 L308.6,285.3 L307.76,287.18 L306.92,289.05 L306.09,290.93 L305.26,292.8 L304.43,294.68 L303.61,296.55 L302.8,298.43 L302,300.3 L301.2,302.18 L300.43,304.05 L299.66,305.93 L298.92,307.8 L298.19,309.68 L297.48,311.55 L296.8,313.43 L296.15,315.3" fill="none" stroke="#f00" stroke-width="2.6" stroke-linejoin="round" stroke-dasharray="9.4 15.4" stroke-linecap="round" />
<path d="M503.6,315.5 L508.68,315.37 L513.76,314.99 L518.85,314.38 L523.93,313.52 L529.01,312.45 L534.09,311.15 L539.17,309.65 L544.25,307.94 L549.34,306.03 L554.42,303.93 L559.5,301.66 L564.58,299.2 L569.66,296.57 L574.74,293.78 L579.83,290.83 L584.91,287.72 L589.99,284.46 L595.07,281.06 L600.15,277.52 L605.23,273.84 L610.32,270.03 L615.4,266.09 L620.48,262.03 L625.56,257.84 L630.64,253.54 L635.72,249.12 L640.81,244.59 L645.89,239.95 L650.97,235.21 L656.05,230.35 L661.13,225.39 L666.21,220.33 L671.3,215.17 L676.38,209.91 L681.46,204.54 L686.54,199.08 L691.62,193.52 L696.7,187.86 L701.78,182.1 L706.87,176.24 L711.95,170.28 L717.03,164.22 L722.11,158.06 L727.19,151.8 L732.27,145.43 L737.36,138.95 L742.44,132.36 L747.52,125.67 L752.6,118.85 L757.68,111.93 L762.77,104.88 L767.85,97.71 L772.93,90.41 L778.01,82.98 L783.09,75.42 L788.17,67.73 L793.25,59.88 L798.34,51.9 L803.42,43.75 L808.5,36.9 L809.4,37.2 L809,41.84 L808.21,46.48 L807.1,51.12 L805.72,55.75 L804.11,60.39 L802.32,65.03 L800.38,69.67 L798.32,74.31 L796.17,78.95 L793.96,83.58 L791.69,88.22 L789.4,92.86 L787.08,97.5 L784.76,102.14 L782.43,106.78 L780.11,111.41 L777.8,116.05 L775.49,120.69 L773.2,125.33 L770.92,129.97 L768.66,134.61 L766.4,139.24 L764.14,143.88 L761.9,148.52 L759.65,153.16 L757.4,157.8 L755.14,162.44 L752.88,167.07 L750.6,171.71 L748.31,176.35 L746,180.99 L743.67,185.63 L741.31,190.26 L738.93,194.9 L736.52,199.54 L734.09,204.18 L731.62,208.82 L729.11,213.46 L726.57,218.1 L723.99,222.73 L721.37,227.37 L718.71,232.01 L715.99,236.65 L713.22,241.29 L710.38,245.93 L707.48,250.56 L704.5,255.2 L701.44,259.84 L698.27,264.48 L694.98,269.12 L691.57,273.75 L687.99,278.39 L684.24,283.03 L680.28,287.67 L676.09,292.31 L671.62,296.95 L666.83,301.58 L661.69,306.22 L656.13,310.86 L650.11,315.5" fill="none" stroke="#808000" stroke-width="2.0" stroke-linejoin="round" />
<path d="M503.6,315.5 L508.68,315.48 L513.75,315.41 L518.83,315.29 L523.9,315.12 L528.98,314.89 L534.05,314.61 L539.12,314.26 L544.2,313.85 L549.27,313.37 L554.35,312.83 L559.43,312.21 L564.5,311.53 L569.58,310.77 L574.65,309.94 L579.73,309.03 L584.8,308.05 L589.88,306.98 L594.95,305.84 L600.02,304.62 L605.1,303.32 L610.18,301.94 L615.25,300.49 L620.33,298.95 L625.4,297.33 L630.48,295.63 L635.55,293.86 L640.62,292 L645.7,290.07 L650.78,288.07 L655.85,285.99 L660.92,283.83 L666,281.61 L671.08,279.31 L676.15,276.95 L681.23,274.52 L686.3,272.03 L691.38,269.47 L696.45,266.86 L701.53,264.19 L706.6,261.47 L711.67,258.69 L716.75,255.87 L721.83,253.01 L726.9,250.1 L731.98,247.16 L737.05,244.19 L742.12,241.19 L747.2,238.16 L752.28,235.11 L757.35,232.05 L762.42,228.98 L767.5,225.9 L772.58,222.82 L777.65,219.74 L782.73,216.67 L787.8,213.62 L792.88,210.59 L797.95,207.58 L803.03,204.61 L808.1,203.6 L807.99,205.5 L806.15,207.33 L804.36,209.17 L802.64,211 L800.96,212.83 L799.33,214.67 L797.75,216.5 L796.2,218.33 L794.69,220.17 L793.21,222 L791.76,223.83 L790.33,225.67 L788.92,227.5 L787.53,229.33 L786.14,231.17 L784.76,233 L783.39,234.83 L782.01,236.67 L780.63,238.5 L779.24,240.33 L777.84,242.17 L776.43,244 L775,245.83 L773.54,247.67 L772.06,249.5 L770.55,251.33 L769,253.17 L767.43,255 L765.81,256.83 L764.15,258.67 L762.44,260.5 L760.69,262.33 L758.88,264.17 L757.02,266 L755.11,267.83 L753.13,269.67 L751.08,271.5 L748.98,273.33 L746.8,275.17 L744.55,277 L742.23,278.83 L739.82,280.67 L737.34,282.5 L734.78,284.33 L732.13,286.17 L729.39,288 L726.57,289.83 L723.65,291.67 L720.63,293.5 L717.52,295.33 L714.31,297.17 L711,299 L707.59,300.83 L704.07,302.67 L700.44,304.5 L696.7,306.33 L692.85,308.17 L688.89,310 L684.81,311.83 L680.61,313.67 L676.3,315.5" fill="none" stroke="#00ffff" stroke-width="2.0" stroke-linejoin="round" />
<path d="M503.6,315.5 L508.68,315.47 L513.75,315.38 L518.83,315.23 L523.9,315.03 L528.98,314.78 L534.05,314.47 L539.12,314.11 L544.2,313.7 L549.27,313.24 L554.35,312.73 L559.43,312.17 L564.5,311.58 L569.58,310.93 L574.65,310.25 L579.73,309.52 L584.8,308.75 L589.88,307.95 L594.95,307.1 L600.02,306.22 L605.1,305.3 L610.18,304.34 L615.25,303.35 L620.33,302.32 L625.4,301.26 L630.48,300.17 L635.55,299.04 L640.62,297.89 L645.7,296.7 L650.78,295.48 L655.85,294.23 L660.92,292.96 L666,291.65 L671.08,290.31 L676.15,288.95 L681.23,287.56 L686.3,286.14 L691.38,284.69 L696.45,283.22 L701.53,281.72 L706.6,280.19 L711.67,278.63 L716.75,277.05 L721.83,275.44 L726.9,273.81 L731.98,272.14 L737.05,270.45 L742.12,268.74 L747.2,266.99 L752.28,265.22 L757.35,263.42 L762.42,261.59 L767.5,259.73 L772.58,257.85 L777.65,255.93 L782.73,253.98 L787.8,252.01 L792.88,250 L797.95,247.96 L803.03,245.89 L808.1,243.7 L808.43,246 L807.75,247.16 L806.89,248.32 L805.89,249.47 L804.74,250.63 L803.47,251.79 L802.08,252.95 L800.58,254.11 L799,255.27 L797.33,256.43 L795.59,257.58 L793.78,258.74 L791.92,259.9 L790.02,261.06 L788.08,262.22 L786.1,263.38 L784.11,264.53 L782.09,265.69 L780.07,266.85 L778.03,268.01 L776,269.17 L773.96,270.32 L771.93,271.48 L769.91,272.64 L767.9,273.8 L765.89,274.96 L763.91,276.12 L761.93,277.27 L759.97,278.43 L758.02,279.59 L756.08,280.75 L754.15,281.91 L752.23,283.07 L750.31,284.23 L748.4,285.38 L746.48,286.54 L744.56,287.7 L742.63,288.86 L740.68,290.02 L738.7,291.18 L736.7,292.33 L734.66,293.49 L732.57,294.65 L730.43,295.81 L728.23,296.97 L725.96,298.12 L723.61,299.28 L721.17,300.44 L718.62,301.6 L715.96,302.76 L713.17,303.92 L710.25,305.07 L707.17,306.23 L703.92,307.39 L700.5,308.55 L696.88,309.71 L693.04,310.87 L688.98,312.02 L684.68,313.18 L680.12,314.34 L675.27,315.5" fill="none" stroke="#0000ff" stroke-width="2.0" stroke-linejoin="round" />
<path d="M503.6,315.5 L508.67,315.48 L513.74,315.4 L518.81,315.28 L523.88,315.11 L528.95,314.89 L534.02,314.63 L539.09,314.32 L544.16,313.97 L549.23,313.57 L554.3,313.13 L559.37,312.64 L564.44,312.11 L569.51,311.54 L574.58,310.93 L579.65,310.27 L584.72,309.57 L589.79,308.84 L594.86,308.06 L599.93,307.24 L605,306.39 L610.07,305.49 L615.14,304.56 L620.21,303.59 L625.28,302.59 L630.35,301.55 L635.42,300.47 L640.49,299.35 L645.56,298.21 L650.63,297.02 L655.7,295.81 L660.77,294.56 L665.84,293.27 L670.91,291.96 L675.98,290.61 L681.05,289.23 L686.12,287.82 L691.19,286.38 L696.26,284.91 L701.33,283.4 L706.4,281.87 L711.47,280.31 L716.54,278.72 L721.61,277.1 L726.68,275.46 L731.75,273.79 L736.82,272.09 L741.89,270.36 L746.96,268.61 L752.03,266.83 L757.1,265.02 L762.17,263.2 L767.24,261.34 L772.31,259.46 L777.38,257.56 L782.45,255.63 L787.52,253.68 L792.59,251.71 L797.66,249.72 L802.73,247.7 L807.8,245.8 L808,248 L807.35,249.12 L806.51,250.25 L805.52,251.38 L804.37,252.5 L803.09,253.62 L801.69,254.75 L800.19,255.88 L798.58,257 L796.9,258.12 L795.14,259.25 L793.32,260.38 L791.44,261.5 L789.53,262.62 L787.57,263.75 L785.59,264.88 L783.59,266 L781.58,267.12 L779.56,268.25 L777.54,269.38 L775.52,270.5 L773.51,271.62 L771.51,272.75 L769.53,273.88 L767.56,275 L765.61,276.12 L763.68,277.25 L761.76,278.38 L759.87,279.5 L758,280.62 L756.14,281.75 L754.31,282.88 L752.48,284 L750.66,285.12 L748.85,286.25 L747.04,287.38 L745.23,288.5 L743.41,289.62 L741.57,290.75 L739.71,291.88 L737.82,293 L735.9,294.12 L733.92,295.25 L731.89,296.38 L729.8,297.5 L727.62,298.62 L725.36,299.75 L723,300.88 L720.53,302 L717.93,303.12 L715.2,304.25 L712.3,305.38 L709.25,306.5 L706,307.62 L702.56,308.75 L698.9,309.88 L695.01,311 L690.86,312.12 L686.44,313.25 L681.74,314.38 L676.72,315.5" fill="none" stroke="#ff00ff" stroke-width="2.0" stroke-linejoin="round" />
<path d="M503.6,315.5 L508.69,315.43 L513.77,315.22 L518.86,314.88 L523.94,314.4 L529.02,313.79 L534.11,313.05 L539.2,312.18 L544.28,311.18 L549.37,310.05 L554.45,308.8 L559.54,307.43 L564.62,305.93 L569.71,304.32 L574.79,302.58 L579.88,300.73 L584.96,298.76 L590.05,296.68 L595.13,294.48 L600.22,292.18 L605.3,289.76 L610.38,287.24 L615.47,284.61 L620.56,281.87 L625.64,279.03 L630.73,276.09 L635.81,273.05 L640.89,269.91 L645.98,266.67 L651.07,263.33 L656.15,259.9 L661.24,256.38 L666.32,252.76 L671.4,249.06 L676.49,245.26 L681.58,241.38 L686.66,237.41 L691.75,233.35 L696.83,229.21 L701.92,224.99 L707,220.69 L712.09,216.31 L717.17,211.85 L722.26,207.32 L727.34,202.71 L732.43,198.02 L737.51,193.26 L742.6,188.43 L747.68,183.54 L752.77,178.57 L757.85,173.53 L762.93,168.43 L768.02,163.27 L773.11,158.04 L778.19,152.75 L783.28,147.4 L788.36,141.99 L793.45,136.52 L798.53,130.99 L803.62,125.41 L808.7,120.6 L809.66,124 L808.64,127.19 L807.57,130.38 L806.43,133.57 L805.25,136.77 L804.01,139.96 L802.73,143.15 L801.41,146.34 L800.05,149.53 L798.65,152.72 L797.22,155.92 L795.77,159.11 L794.29,162.3 L792.78,165.49 L791.25,168.68 L789.7,171.88 L788.13,175.07 L786.54,178.26 L784.93,181.45 L783.31,184.64 L781.67,187.83 L780.02,191.03 L778.35,194.22 L776.66,197.41 L774.96,200.6 L773.23,203.79 L771.49,206.98 L769.73,210.18 L767.95,213.37 L766.14,216.56 L764.31,219.75 L762.45,222.94 L760.56,226.13 L758.64,229.32 L756.68,232.52 L754.68,235.71 L752.64,238.9 L750.55,242.09 L748.41,245.28 L746.21,248.47 L743.95,251.67 L741.64,254.86 L739.25,258.05 L736.78,261.24 L734.24,264.43 L731.61,267.62 L728.88,270.82 L726.06,274.01 L723.13,277.2 L720.1,280.39 L716.94,283.58 L713.65,286.77 L710.24,289.97 L706.68,293.16 L702.97,296.35 L699.11,299.54 L695.07,302.73 L690.87,305.93 L686.47,309.12 L681.89,312.31 L677.1,315.5" fill="none" stroke="#800080" stroke-width="2.0" stroke-linejoin="round" />
<path d="M503.6,315.5 L508.68,315.45 L513.75,315.3 L518.83,315.05 L523.9,314.7 L528.98,314.26 L534.05,313.72 L539.12,313.1 L544.2,312.38 L549.27,311.58 L554.35,310.7 L559.43,309.72 L564.5,308.67 L569.58,307.54 L574.65,306.32 L579.73,305.03 L584.8,303.66 L589.88,302.22 L594.95,300.7 L600.02,299.11 L605.1,297.45 L610.18,295.72 L615.25,293.92 L620.33,292.05 L625.4,290.11 L630.48,288.1 L635.55,286.03 L640.62,283.89 L645.7,281.69 L650.78,279.43 L655.85,277.1 L660.92,274.7 L666,272.25 L671.08,269.73 L676.15,267.15 L681.23,264.51 L686.3,261.81 L691.38,259.05 L696.45,256.22 L701.53,253.34 L706.6,250.39 L711.67,247.38 L716.75,244.31 L721.83,241.18 L726.9,237.99 L731.98,234.74 L737.05,231.42 L742.12,228.04 L747.2,224.6 L752.28,221.09 L757.35,217.52 L762.42,213.89 L767.5,210.19 L772.58,206.42 L777.65,202.59 L782.73,198.68 L787.8,194.71 L792.88,190.67 L797.95,186.56 L803.03,182.38 L808.1,178.8 L809.64,181 L808.83,183.24 L807.92,185.48 L806.92,187.72 L805.84,189.97 L804.67,192.21 L803.44,194.45 L802.14,196.69 L800.78,198.93 L799.37,201.18 L797.91,203.42 L796.4,205.66 L794.85,207.9 L793.27,210.14 L791.66,212.38 L790.02,214.62 L788.35,216.87 L786.66,219.11 L784.94,221.35 L783.21,223.59 L781.46,225.83 L779.69,228.07 L777.91,230.32 L776.11,232.56 L774.3,234.8 L772.47,237.04 L770.62,239.28 L768.76,241.53 L766.88,243.77 L764.98,246.01 L763.06,248.25 L761.11,250.49 L759.13,252.73 L757.13,254.97 L755.09,257.22 L753.01,259.46 L750.89,261.7 L748.72,263.94 L746.51,266.18 L744.23,268.43 L741.9,270.67 L739.49,272.91 L737.02,275.15 L734.46,277.39 L731.81,279.63 L729.07,281.88 L726.22,284.12 L723.27,286.36 L720.19,288.6 L716.99,290.84 L713.65,293.08 L710.16,295.32 L706.52,297.57 L702.71,299.81 L698.72,302.05 L694.54,304.29 L690.17,306.53 L685.58,308.77 L680.77,311.02 L675.73,313.26 L670.44,315.5 L503.6,315.5" fill="none" stroke="#ff0000" stroke-width="2.0" stroke-linejoin="round" />
<path d="M503.6,315.5 L508.68,315.43 L513.77,315.23 L518.85,314.9 L523.93,314.44 L529.02,313.86 L534.1,313.16 L539.18,312.36 L544.27,311.44 L549.35,310.41 L554.43,309.29 L559.52,308.07 L564.6,306.75 L569.68,305.34 L574.77,303.83 L579.85,302.25 L584.93,300.58 L590.02,298.83 L595.1,297 L600.18,295.09 L605.27,293.11 L610.35,291.06 L615.43,288.94 L620.52,286.75 L625.6,284.5 L630.68,282.17 L635.77,279.79 L640.85,277.34 L645.93,274.84 L651.02,272.27 L656.1,269.64 L661.18,266.95 L666.27,264.21 L671.35,261.41 L676.43,258.55 L681.52,255.63 L686.6,252.66 L691.68,249.63 L696.77,246.54 L701.85,243.4 L706.93,240.19 L712.02,236.93 L717.1,233.61 L722.18,230.22 L727.27,226.78 L732.35,223.27 L737.43,219.7 L742.52,216.06 L747.6,212.35 L752.68,208.58 L757.77,204.73 L762.85,200.82 L767.93,196.82 L773.02,192.75 L778.1,188.6 L783.18,184.37 L788.27,180.06 L793.35,175.65 L798.43,171.16 L803.52,166.57 L808.6,163.5 L809.5,166 L809.59,168.49 L809.61,170.98 L809.57,173.47 L809.47,175.97 L809.31,178.46 L809.1,180.95 L808.83,183.44 L808.52,185.93 L808.16,188.43 L807.76,190.92 L807.32,193.41 L806.84,195.9 L806.32,198.39 L805.77,200.88 L805.19,203.38 L804.57,205.87 L803.93,208.36 L803.27,210.85 L802.57,213.34 L801.86,215.83 L801.12,218.32 L800.37,220.82 L799.6,223.31 L798.8,225.8 L798,228.29 L797.17,230.78 L796.34,233.28 L795.48,235.77 L794.62,238.26 L793.74,240.75 L792.85,243.24 L791.95,245.73 L791.04,248.22 L790.12,250.72 L789.19,253.21 L788.24,255.7 L787.29,258.19 L786.32,260.68 L785.35,263.18 L784.36,265.67 L783.35,268.16 L782.34,270.65 L781.31,273.14 L780.27,275.63 L779.21,278.12 L778.13,280.62 L777.04,283.11 L775.93,285.6 L774.8,288.09 L773.64,290.58 L772.47,293.07 L771.27,295.57 L770.04,298.06 L768.78,300.55 L767.5,303.04 L766.18,305.53 L764.83,308.02 L763.44,310.52 L762.02,313.01 L760.55,315.5 L677.52,315.5" fill="none" stroke="#0000ff" stroke-width="2.0" stroke-linejoin="round" stroke-dasharray="7.4 10.4" stroke-linecap="round" />
<path d="M503.6,315.5 L508.73,315.47 L513.86,315.38 L518.99,315.22 L524.12,314.99 L529.25,314.7 L534.38,314.34 L539.51,313.9 L544.64,313.4 L549.77,312.82 L554.9,312.16 L560.03,311.43 L565.16,310.62 L570.29,309.74 L575.42,308.77 L580.55,307.73 L585.68,306.61 L590.81,305.41 L595.94,304.14 L601.07,302.78 L606.2,301.35 L611.33,299.84 L616.46,298.25 L621.59,296.59 L626.72,294.85 L631.85,293.03 L636.98,291.14 L642.11,289.18 L647.24,287.15 L652.37,285.05 L657.5,282.88 L662.63,280.64 L667.76,278.34 L672.89,275.98 L678.02,273.56 L683.15,271.08 L688.28,268.54 L693.41,265.95 L698.54,263.31 L703.67,260.62 L708.8,257.89 L713.93,255.11 L719.06,252.3 L724.19,249.45 L729.32,246.57 L734.45,243.66 L739.58,240.73 L744.71,237.78 L749.84,234.81 L754.97,231.83 L760.1,228.84 L765.23,225.84 L770.36,222.85 L775.49,219.86 L780.62,216.89 L785.75,213.93 L790.88,210.98 L796.01,208.07 L801.14,205.18 L806.27,202.33 L811.4,203.7 L810.98,208 L810.8,209.79 L810.58,211.58 L810.32,213.38 L810.02,215.17 L809.69,216.96 L809.33,218.75 L808.93,220.54 L808.51,222.33 L808.05,224.12 L807.57,225.92 L807.06,227.71 L806.52,229.5 L805.96,231.29 L805.38,233.08 L804.78,234.88 L804.16,236.67 L803.52,238.46 L802.86,240.25 L802.18,242.04 L801.49,243.83 L800.78,245.62 L800.05,247.42 L799.31,249.21 L798.56,251 L797.79,252.79 L797.01,254.58 L796.21,256.38 L795.41,258.17 L794.59,259.96 L793.76,261.75 L792.91,263.54 L792.06,265.33 L791.19,267.12 L790.31,268.92 L789.42,270.71 L788.51,272.5 L787.6,274.29 L786.67,276.08 L785.72,277.88 L784.77,279.67 L783.8,281.46 L782.81,283.25 L781.81,285.04 L780.79,286.83 L779.76,288.62 L778.71,290.42 L777.64,292.21 L776.55,294 L775.44,295.79 L774.31,297.58 L773.15,299.38 L771.98,301.17 L770.77,302.96 L769.55,304.75 L768.29,306.54 L767.01,308.33 L765.69,310.12 L764.34,311.92 L762.96,313.71 L761.55,315.5 L677.52,315.5" fill="none" stroke="#000000" stroke-width="2.0" stroke-linejoin="round" stroke-dasharray="7.4 10.4" stroke-linecap="round" />
<path d="M503.6,315.5 L508.68,315.45 L513.76,315.31 L518.84,315.08 L523.92,314.76 L529,314.35 L534.08,313.85 L539.16,313.27 L544.24,312.61 L549.32,311.87 L554.4,311.06 L559.48,310.16 L564.56,309.19 L569.64,308.15 L574.72,307.04 L579.8,305.86 L584.88,304.6 L589.96,303.29 L595.04,301.9 L600.12,300.45 L605.2,298.94 L610.28,297.37 L615.36,295.74 L620.44,294.05 L625.52,292.3 L630.6,290.49 L635.68,288.63 L640.76,286.71 L645.84,284.74 L650.92,282.71 L656,280.64 L661.08,278.51 L666.16,276.33 L671.24,274.1 L676.32,271.83 L681.4,269.5 L686.48,267.13 L691.56,264.71 L696.64,262.24 L701.72,259.72 L706.8,257.16 L711.88,254.56 L716.96,251.91 L722.04,249.21 L727.12,246.47 L732.2,243.68 L737.28,240.85 L742.36,237.98 L747.44,235.06 L752.52,232.1 L757.6,229.09 L762.68,226.04 L767.76,222.94 L772.84,219.8 L777.92,216.61 L783,213.38 L788.08,210.1 L793.16,206.78 L798.24,203.41 L803.32,199.99 L808.4,197.8 L808.95,202 L808.82,203.89 L808.66,205.78 L808.49,207.68 L808.29,209.57 L808.07,211.46 L807.82,213.35 L807.55,215.24 L807.26,217.13 L806.94,219.03 L806.6,220.92 L806.23,222.81 L805.84,224.7 L805.42,226.59 L804.98,228.48 L804.52,230.38 L804.02,232.27 L803.5,234.16 L802.96,236.05 L802.39,237.94 L801.8,239.83 L801.18,241.72 L800.54,243.62 L799.87,245.51 L799.18,247.4 L798.46,249.29 L797.73,251.18 L796.96,253.07 L796.18,254.97 L795.37,256.86 L794.54,258.75 L793.69,260.64 L792.82,262.53 L791.93,264.43 L791.01,266.32 L790.08,268.21 L789.14,270.1 L788.17,271.99 L787.19,273.88 L786.19,275.77 L785.17,277.67 L784.14,279.56 L783.1,281.45 L782.05,283.34 L780.98,285.23 L779.9,287.12 L778.82,289.02 L777.72,290.91 L776.62,292.8 L775.51,294.69 L774.4,296.58 L773.28,298.48 L772.17,300.37 L771.05,302.26 L769.93,304.15 L768.81,306.04 L767.69,307.93 L766.58,309.82 L765.48,311.72 L764.38,313.61 L763.29,315.5 L677.52,315.5" fill="none" stroke="#ff8000" stroke-width="2.0" stroke-linejoin="round" stroke-dasharray="7.4 10.4" stroke-linecap="round" />
<line x1="344.9" y1="69.9" x2="368.4" y2="69.9" stroke="#000" stroke-width="1.6" />
<path d="M374.4,69.9 L364.4,66.7 L364.4,73.1 Z" fill="#000"/>
<line x1="370.9" y1="107.8" x2="346.2" y2="107.8" stroke="#00f" stroke-width="1.6" />
<path d="M340.2,107.8 L350.2,104.6 L350.2,111 Z" fill="#00f"/>
<line x1="372.7" y1="187.3" x2="348" y2="187.3" stroke="#f00" stroke-width="1.6" />
<path d="M342,187.3 L352,184.1 L352,190.5 Z" fill="#f00"/>
</g>
<line x1="523.9" y1="37.3" x2="567.7" y2="37.3" stroke="#808000" stroke-width="2.0" />
<text x="572.9" y="43.5" font-size="18.8" text-anchor="start" fill="#000" >SA0-0.14</text>
<line x1="523.9" y1="60.4" x2="567.7" y2="60.4" stroke="#00ffff" stroke-width="2.0" />
<text x="572.9" y="66.6" font-size="18.8" text-anchor="start" fill="#000" >SA0-1</text>
<line x1="523.9" y1="84.1" x2="567.7" y2="84.1" stroke="#0000ff" stroke-width="2.0" />
<text x="572.9" y="90.3" font-size="18.8" text-anchor="start" fill="#000" >SA0-2</text>
<line x1="523.9" y1="108" x2="567.7" y2="108" stroke="#ff00ff" stroke-width="2.0" />
<text x="572.9" y="114.2" font-size="18.8" text-anchor="start" fill="#000" >SA0-3</text>
<line x1="523.9" y1="131.1" x2="567.7" y2="131.1" stroke="#800080" stroke-width="2.0" />
<text x="572.9" y="137.3" font-size="18.8" text-anchor="start" fill="#000" >SA5</text>
<line x1="523.9" y1="154.8" x2="567.7" y2="154.8" stroke="#ff0000" stroke-width="2.0" />
<text x="572.9" y="161" font-size="18.8" text-anchor="start" fill="#000" >SA7</text>
<line x1="652.4" y1="37.3" x2="695.3" y2="37.3" stroke="#0000ff" stroke-width="2.0" stroke-dasharray="7.4 10.4" stroke-linecap="round"/>
<text x="700.6" y="43.5" font-size="18.8" text-anchor="start" fill="#000" >AP-1</text>
<line x1="652.4" y1="60.4" x2="695.3" y2="60.4" stroke="#000000" stroke-width="2.0" stroke-dasharray="7.4 10.4" stroke-linecap="round"/>
<text x="700.6" y="66.6" font-size="18.8" text-anchor="start" fill="#000" >AP-2</text>
<line x1="652.4" y1="84.1" x2="695.3" y2="84.1" stroke="#ff8000" stroke-width="2.0" stroke-dasharray="7.4 10.4" stroke-linecap="round"/>
<text x="700.6" y="90.3" font-size="18.8" text-anchor="start" fill="#000" >AP-3</text>
<line x1="77.9" y1="39.5" x2="120.9" y2="39.5" stroke="#000" stroke-width="2.6" />
<text x="126" y="45.7" font-size="18.8" text-anchor="start" fill="#000" >SiO<tspan font-size="12" dy="4.5">2</tspan><tspan dy="-4.5"> glass</tspan></text>
<line x1="78.5" y1="67.2" x2="120.9" y2="67.2" stroke="#000" stroke-width="2.5" stroke-dasharray="10.4 14.4" stroke-linecap="round"/>
<text x="126" y="73.4" font-size="18.8" text-anchor="start" fill="#000" >SiO<tspan font-size="12" dy="4.5">2</tspan><tspan dy="-4.5"> glass_FEM</tspan></text>
<line x1="77.9" y1="92.5" x2="120.9" y2="92.5" stroke="#00f" stroke-width="2.6" />
<text x="126" y="98.7" font-size="18.8" text-anchor="start" fill="#000" >SA5</text>
<line x1="78.5" y1="115.3" x2="120.9" y2="115.3" stroke="#00f" stroke-width="2.5" stroke-dasharray="10.4 14.4" stroke-linecap="round"/>
<text x="126" y="121.5" font-size="18.8" text-anchor="start" fill="#000" >SA5_FEM</text>
<line x1="77.9" y1="138.2" x2="120.9" y2="138.2" stroke="#f00" stroke-width="2.6" />
<text x="126" y="144.4" font-size="18.8" text-anchor="start" fill="#000" >AP-2 glass</text>
<line x1="78.5" y1="161.7" x2="120.9" y2="161.7" stroke="#f00" stroke-width="2.5" stroke-dasharray="10.4 14.4" stroke-linecap="round"/>
<text x="126" y="167.9" font-size="18.8" text-anchor="start" fill="#000" >AP-2 glass_FEM</text>
<path d="M85.4,633.25 L89.95,629.59 L94.5,625.92 L99.05,622.24 L103.59,618.54 L108.14,614.83 L112.69,611.12 L117.24,607.39 L121.79,603.64 L126.34,599.89 L130.88,596.12 L135.43,592.35 L139.98,588.56 L144.53,584.76 L149.08,580.95 L153.62,577.12 L158.17,573.29 L162.72,569.44 L167.27,565.58 L171.82,561.71 L176.37,557.82 L180.92,553.93 L185.46,550.02 L190.01,546.11 L194.56,542.18 L199.11,538.23 L203.66,534.28 L208.2,530.32 L212.75,526.34 L217.3,522.35 L221.85,518.35 L226.4,514.34 L230.95,510.32 L235.49,506.28 L240.04,502.23 L244.59,498.17 L249.14,494.1 L253.69,490.02 L258.24,485.93 L262.78,481.82 L267.33,477.7 L271.88,473.57 L276.43,469.43 L280.98,465.28 L285.53,461.12 L290.07,456.94 L294.62,452.75 L299.17,448.55 L303.72,444.34 L308.27,440.12 L312.82,435.88 L317.37,431.64 L321.91,427.38 L326.46,423.11 L331.01,418.83 L335.56,414.53 L340.11,410.23 L344.65,405.91 L349.2,401.58 L353.75,397.24 L358.3,392.89" fill="none" stroke="#000" stroke-width="2.3" stroke-linejoin="round" />
<path d="M85.3,617.1 L356.3,396.6" fill="none" stroke="#0000ff" stroke-width="2.5" stroke-linejoin="round" stroke-dasharray="10 14" stroke-linecap="round" />
<path d="M234.8,518.3 L240.1,523.6 L234.8,528.9 L229.5,523.6 Z" fill="#0000ff"/>
<path d="M249.8,519.5 L255.1,524.8 L249.8,530.1 L244.5,524.8 Z" fill="#0000ff"/>
<path d="M261.9,498.1 L267.2,503.4 L261.9,508.7 L256.6,503.4 Z" fill="#0000ff"/>
<path d="M288.3,487.5 L293.6,492.8 L288.3,498.1 L283,492.8 Z" fill="#0000ff"/>
<path d="M294.4,468.6 L299.7,473.9 L294.4,479.2 L289.1,473.9 Z" fill="#0000ff"/>
<path d="M309.6,461.6 L314.9,466.9 L309.6,472.2 L304.3,466.9 Z" fill="#0000ff"/>
<path d="M288.6,451.8 L290.03,455.23 L293.74,455.53 L290.91,457.95 L291.77,461.57 L288.6,459.63 L285.43,461.57 L286.29,457.95 L283.46,455.53 L287.17,455.23 Z" fill="#ff0000"/>
<path d="M285.2,461.6 L286.63,465.03 L290.34,465.33 L287.51,467.75 L288.37,471.37 L285.2,469.43 L282.03,471.37 L282.89,467.75 L280.06,465.33 L283.77,465.03 Z" fill="#ff0000"/>
<path d="M292.1,465.3 L293.53,468.73 L297.24,469.03 L294.41,471.45 L295.27,475.07 L292.1,473.13 L288.93,475.07 L289.79,471.45 L286.96,469.03 L290.67,468.73 Z" fill="#ff0000"/>
<path d="M80.9,624.6 L90.9,624.6 L85.9,633.6 Z" fill="#000"/>
<path d="M159.7,539.5 L169.7,539.5 L164.7,548.5 Z" fill="#000"/>
<path d="M205.4,502.7 L215.4,502.7 L210.4,511.7 Z" fill="#000"/>
<path d="M237.9,481.1 L247.9,481.1 L242.9,490.1 Z" fill="#000"/>
<path d="M238.3,491.9 L248.3,491.9 L243.3,500.9 Z" fill="#000"/>
<path d="M270.4,457.3 L280.4,457.3 L275.4,466.3 Z" fill="#000"/>
<path d="M291.7,435.6 L301.7,435.6 L296.7,444.6 Z" fill="#000"/>
<circle cx="268.8" cy="446" r="3.8" fill="none" stroke="#9933ff" stroke-width="1.2"/>
<circle cx="268.8" cy="454.5" r="3.8" fill="none" stroke="#9933ff" stroke-width="1.2"/>
<circle cx="248.8" cy="479.3" r="3.8" fill="none" stroke="#9933ff" stroke-width="1.2"/>
<circle cx="248.8" cy="497.6" r="3.8" fill="none" stroke="#9933ff" stroke-width="1.2"/>
<circle cx="275.4" cy="482.1" r="4.6" fill="#00ff00"/>
<circle cx="280.1" cy="479.3" r="4.6" fill="#00ff00"/>
<circle cx="289.9" cy="463" r="4.6" fill="#00ff00"/>
<circle cx="296.4" cy="466.9" r="4.6" fill="#00ff00"/>
<circle cx="308.8" cy="439.7" r="4.6" fill="#00ff00"/>
<circle cx="315.8" cy="434.3" r="4.6" fill="#00ff00"/>
<circle cx="328.8" cy="420.6" r="4.6" fill="#00ff00"/>
<circle cx="341.5" cy="403.4" r="4.6" fill="#00ff00"/>
<path d="M265.6,484.6 L276,484.6 L270.8,475.6 Z" fill="#ff0000"/>
<path d="M90,384.3 L95.3,389.6 L90,394.9 L84.7,389.6 Z" fill="#0000ff"/>
<path d="M90,401.1 L91.43,404.53 L95.14,404.83 L92.31,407.25 L93.17,410.87 L90,408.93 L86.83,410.87 L87.69,407.25 L84.86,404.83 L88.57,404.53 Z" fill="#ff0000"/>
<path d="M85,419.3 L95,419.3 L90,428.3 Z" fill="#000"/>
<circle cx="90" cy="439.2" r="4.0" fill="none" stroke="#9933ff" stroke-width="1.2"/>
<circle cx="90" cy="455.4" r="4.6" fill="#00ff00"/>
<path d="M84.8,476.2 L95.2,476.2 L90,467.2 Z" fill="#ff0000"/>
<text x="108.4" y="394.1" font-size="13.5" text-anchor="start" fill="#000" >SA glass</text>
<text x="108.4" y="410.6" font-size="13.5" text-anchor="start" fill="#000" >AP glass</text>
<text x="108.4" y="427.5" font-size="13.5" text-anchor="start" fill="#000" >porous-Si</text>
<text x="108.4" y="443.7" font-size="13.5" text-anchor="start" fill="#000" >porous-Au</text>
<text x="108.4" y="459.9" font-size="13.5" text-anchor="start" fill="#000" >LaSrCoFeO</text>
<text x="108.4" y="476.2" font-size="13.5" text-anchor="start" fill="#000" >Porous BMG</text>
<line x1="227.4" y1="612.9" x2="262.5" y2="612.9" stroke="#000" stroke-width="3.0" />
<line x1="228.9" y1="631.8" x2="261" y2="631.8" stroke="#0000ff" stroke-width="3.0" stroke-dasharray="8.6 15.4" stroke-linecap="round"/>
<text x="266.2" y="617.6" font-size="14.7" text-anchor="start" fill="#000" >Porous Model</text>
<text x="266.2" y="635.5" font-size="14.7" text-anchor="start" fill="#000" >Gibson &amp; Ashby</text>
<path d="M527.9,610.49 L532.68,608.64 L537.47,606.79 L542.25,604.92 L547.03,603.04 L551.82,601.15 L556.6,599.23 L561.38,597.31 L566.17,595.36 L570.95,593.39 L575.73,591.4 L580.52,589.39 L585.3,587.36 L590.08,585.3 L594.87,583.21 L599.65,581.1 L604.43,578.96 L609.22,576.79 L614,574.59 L618.78,572.36 L623.57,570.09 L628.35,567.79 L633.13,565.46 L637.92,563.09 L642.7,560.68 L647.48,558.23 L652.27,555.74 L657.05,553.21 L661.83,550.64 L666.62,548.02 L671.4,545.36 L676.18,542.65 L680.97,539.9 L685.75,537.09 L690.53,534.24 L695.32,531.34 L700.1,528.38 L704.88,525.37 L709.67,522.31 L714.45,519.19 L719.23,516.01 L724.02,512.77 L728.8,509.48 L733.58,506.12 L738.37,502.71 L743.15,499.23 L747.93,495.68 L752.72,492.07 L757.5,488.4 L762.28,484.66 L767.07,480.84 L771.85,476.96 L776.63,473.01 L781.42,468.98 L786.2,464.88 L790.98,460.71 L795.77,456.45 L800.55,452.13 L805.33,447.72 L810.12,443.23 L814.9,438.66" fill="none" stroke="#000" stroke-width="2.6" stroke-linejoin="round" />
<path d="M527.9,634.48 L531.78,632.63 L535.67,630.78 L539.55,628.94 L543.44,627.09 L547.32,625.23 L551.21,623.38 L555.1,621.52 L558.98,619.66 L562.87,617.79 L566.75,615.92 L570.63,614.03 L574.52,612.14 L578.4,610.24 L582.29,608.33 L586.17,606.41 L590.06,604.48 L593.94,602.53 L597.83,600.57 L601.72,598.6 L605.6,596.61 L609.49,594.6 L613.37,592.57 L617.25,590.53 L621.14,588.47 L625.02,586.38 L628.91,584.28 L632.79,582.15 L636.68,580 L640.56,577.82 L644.45,575.62 L648.34,573.39 L652.22,571.14 L656.11,568.85 L659.99,566.54 L663.88,564.2 L667.76,561.83 L671.64,559.42 L675.53,556.99 L679.41,554.52 L683.3,552.01 L687.18,549.47 L691.07,546.89 L694.95,544.28 L698.84,541.63 L702.73,538.93 L706.61,536.2 L710.5,533.43 L714.38,530.61 L718.26,527.75 L722.15,524.85 L726.03,521.9 L729.92,518.91 L733.81,515.87 L737.69,512.78 L741.58,509.64 L745.46,506.46 L749.35,503.22 L753.23,499.93 L757.12,496.59 L761,493.19" fill="none" stroke="#ff0000" stroke-width="2.7" stroke-linejoin="round" stroke-dasharray="9.6 14.9" stroke-linecap="round" />
<path d="M719.6,491.41 L721.19,490.02 L722.78,488.63 L724.37,487.23 L725.95,485.82 L727.54,484.42 L729.13,483 L730.72,481.59 L732.31,480.16 L733.89,478.74 L735.48,477.31 L737.07,475.87 L738.66,474.44 L740.25,472.99 L741.84,471.54 L743.42,470.09 L745.01,468.64 L746.6,467.17 L748.19,465.71 L749.78,464.24 L751.37,462.77 L752.96,461.29 L754.54,459.8 L756.13,458.32 L757.72,456.82 L759.31,455.33 L760.9,453.83 L762.49,452.32 L764.07,450.81 L765.66,449.3 L767.25,447.78 L768.84,446.26 L770.43,444.73 L772.01,443.2 L773.6,441.66 L775.19,440.12 L776.78,438.58 L778.37,437.03 L779.96,435.47 L781.54,433.92 L783.13,432.35 L784.72,430.79 L786.31,429.21 L787.9,427.64 L789.49,426.06 L791.08,424.47 L792.66,422.88 L794.25,421.29 L795.84,419.69 L797.43,418.09 L799.02,416.48 L800.61,414.87 L802.19,413.26 L803.78,411.64 L805.37,410.01 L806.96,408.38 L808.55,406.75 L810.13,405.11 L811.72,403.47 L813.31,401.82 L814.9,400.17" fill="none" stroke="#0000ff" stroke-width="2.7" stroke-linejoin="round" stroke-dasharray="9.8 15" stroke-linecap="round" />
<circle cx="699.3" cy="416.5" r="3.9" fill="none" stroke="#339933" stroke-width="1.1"/>
<circle cx="720.3" cy="427.8" r="3.9" fill="none" stroke="#339933" stroke-width="1.1"/>
<circle cx="720.3" cy="450.2" r="3.9" fill="none" stroke="#339933" stroke-width="1.1"/>
<circle cx="659.2" cy="441.7" r="3.9" fill="none" stroke="#339933" stroke-width="1.1"/>
<circle cx="659.2" cy="445.1" r="3.9" fill="none" stroke="#339933" stroke-width="1.1"/>
<circle cx="659.2" cy="448.5" r="3.9" fill="none" stroke="#339933" stroke-width="1.1"/>
<circle cx="659.2" cy="457.5" r="3.9" fill="none" stroke="#339933" stroke-width="1.1"/>
<circle cx="659.2" cy="470" r="3.9" fill="none" stroke="#339933" stroke-width="1.1"/>
<circle cx="659.2" cy="489.8" r="3.9" fill="none" stroke="#339933" stroke-width="1.1"/>
<circle cx="659.2" cy="514" r="3.9" fill="none" stroke="#339933" stroke-width="1.1"/>
<path d="M737.4,512.1 L738.83,515.53 L742.54,515.83 L739.71,518.25 L740.57,521.87 L737.4,519.93 L734.23,521.87 L735.09,518.25 L732.26,515.83 L735.97,515.53 Z" fill="#ff0000"/>
<path d="M745,513.4 L746.43,516.83 L750.14,517.13 L747.31,519.55 L748.17,523.17 L745,521.23 L741.83,523.17 L742.69,519.55 L739.86,517.13 L743.57,516.83 Z" fill="#ff0000"/>
<path d="M742.3,501.2 L743.73,504.63 L747.44,504.93 L744.61,507.35 L745.47,510.97 L742.3,509.03 L739.13,510.97 L739.99,507.35 L737.16,504.93 L740.87,504.63 Z" fill="#ff0000"/>
<path d="M684.7,531.7 L690,537 L684.7,542.3 L679.4,537 Z" fill="#0000ff"/>
<path d="M700.1,532 L705.4,537.3 L700.1,542.6 L694.8,537.3 Z" fill="#0000ff"/>
<path d="M713.1,514.2 L718.4,519.5 L713.1,524.8 L707.8,519.5 Z" fill="#0000ff"/>
<path d="M741.2,506.6 L746.5,511.9 L741.2,517.2 L735.9,511.9 Z" fill="#0000ff"/>
<path d="M744.7,480.6 L750,485.9 L744.7,491.2 L739.4,485.9 Z" fill="#0000ff"/>
<path d="M762.6,464.9 L767.9,470.2 L762.6,475.5 L757.3,470.2 Z" fill="#0000ff"/>
<circle cx="762.6" cy="441.7" r="4.6" fill="#00ff00"/>
<circle cx="782.8" cy="449.1" r="4.6" fill="#00ff00"/>
<circle cx="769.9" cy="468.1" r="4.6" fill="#00ff00"/>
<circle cx="748.8" cy="485.1" r="4.6" fill="#00ff00"/>
<circle cx="731.8" cy="495.2" r="4.6" fill="#00ff00"/>
<circle cx="742.3" cy="500" r="4.6" fill="#00ff00"/>
<circle cx="727.2" cy="522.1" r="4.6" fill="#00ff00"/>
<path d="M717.1,503.4 L727.5,503.4 L722.3,494.4 Z" fill="#ff0000"/>
<text x="669" y="430.1" font-size="13" text-anchor="start" fill="#000" >40 nm</text>
<text x="669.4" y="441.7" font-size="13" text-anchor="start" fill="#000" >50 nm</text>
<text x="669.4" y="453.1" font-size="13" text-anchor="start" fill="#000" >60 nm</text>
<text x="666.8" y="465.2" font-size="13" text-anchor="start" fill="#000" >160 nm</text>
<text x="666.2" y="479" font-size="13" text-anchor="start" fill="#000" >480 nm</text>
<text x="666.2" y="494.8" font-size="13" text-anchor="start" fill="#000" >900 nm</text>
<text x="587.6" y="497" font-size="14.1" text-anchor="middle" fill="#ff0000" >ligament size</text>
<text x="587.9" y="515.2" font-size="14.1" text-anchor="middle" fill="#ff0000" >increases</text>
<line x1="640.9" y1="461.9" x2="640.9" y2="500" stroke="#000" stroke-width="1.2" />
<path d="M640.9,507.5 L637.6,498.7 L644.2,498.7 Z" fill="#000"/>
<path d="M526.1,386.1 L531.4,391.4 L526.1,396.7 L520.8,391.4 Z" fill="#0000ff"/>
<path d="M526.1,403 L527.53,406.43 L531.24,406.73 L528.41,409.15 L529.27,412.77 L526.1,410.83 L522.93,412.77 L523.79,409.15 L520.96,406.73 L524.67,406.43 Z" fill="#ff0000"/>
<circle cx="526.1" cy="424" r="4.6" fill="#00ff00"/>
<circle cx="526.1" cy="440.2" r="4.0" fill="none" stroke="#339933" stroke-width="1.1"/>
<path d="M520.9,461 L531.3,461 L526.1,452 Z" fill="#ff0000"/>
<text x="545.5" y="395.7" font-size="13.7" text-anchor="start" fill="#000" >SA glass</text>
<text x="545.5" y="412.3" font-size="13.7" text-anchor="start" fill="#000" >AP glass</text>
<text x="545.5" y="428.3" font-size="13.7" text-anchor="start" fill="#000" >LaSrCoFeO</text>
<text x="545.5" y="444.5" font-size="13.7" text-anchor="start" fill="#000" >Porous Au</text>
<text x="545.5" y="460.8" font-size="13.7" text-anchor="start" fill="#000" >porous BMG</text>
<line x1="692.5" y1="587" x2="725.3" y2="587" stroke="#000" stroke-width="3.2" />
<line x1="694.1" y1="607.8" x2="723.7" y2="607.8" stroke="#ff0000" stroke-width="3.2" stroke-dasharray="9.7 15.2" stroke-linecap="round"/>
<line x1="694.1" y1="628.8" x2="723.7" y2="628.8" stroke="#0000ff" stroke-width="3.2" stroke-dasharray="9.7 15.2" stroke-linecap="round"/>
<text x="728.4" y="591.4" font-size="13.7">C<tspan font-size="9.5" dy="3">1</tspan><tspan dy="-3"> = 0.23, &#160;Φ = 0.5</tspan></text>
<text x="728.4" y="612.2" font-size="13.7">C<tspan font-size="9.5" dy="3">1</tspan><tspan dy="-3"> = 0.23, &#160;Φ = 0.8</tspan></text>
<text x="728.4" y="633" font-size="13.7">C<tspan font-size="9.5" dy="3">1</tspan><tspan dy="-3"> = 0.707, Φ = 0.8</tspan></text>
<rect x="63.5" y="13.8" width="321.6" height="301.5" fill="none" stroke="#000" stroke-width="1.5"/>
<rect x="503.6" y="13.5" width="353.9" height="302" fill="none" stroke="#000" stroke-width="1.5"/>
<rect x="60.7" y="371.5" width="325" height="288.3" fill="none" stroke="#000" stroke-width="1.5"/>
<rect x="501.8" y="372.7" width="356.9" height="282.5" fill="none" stroke="#000" stroke-width="1.5"/>
</svg></body></html>
